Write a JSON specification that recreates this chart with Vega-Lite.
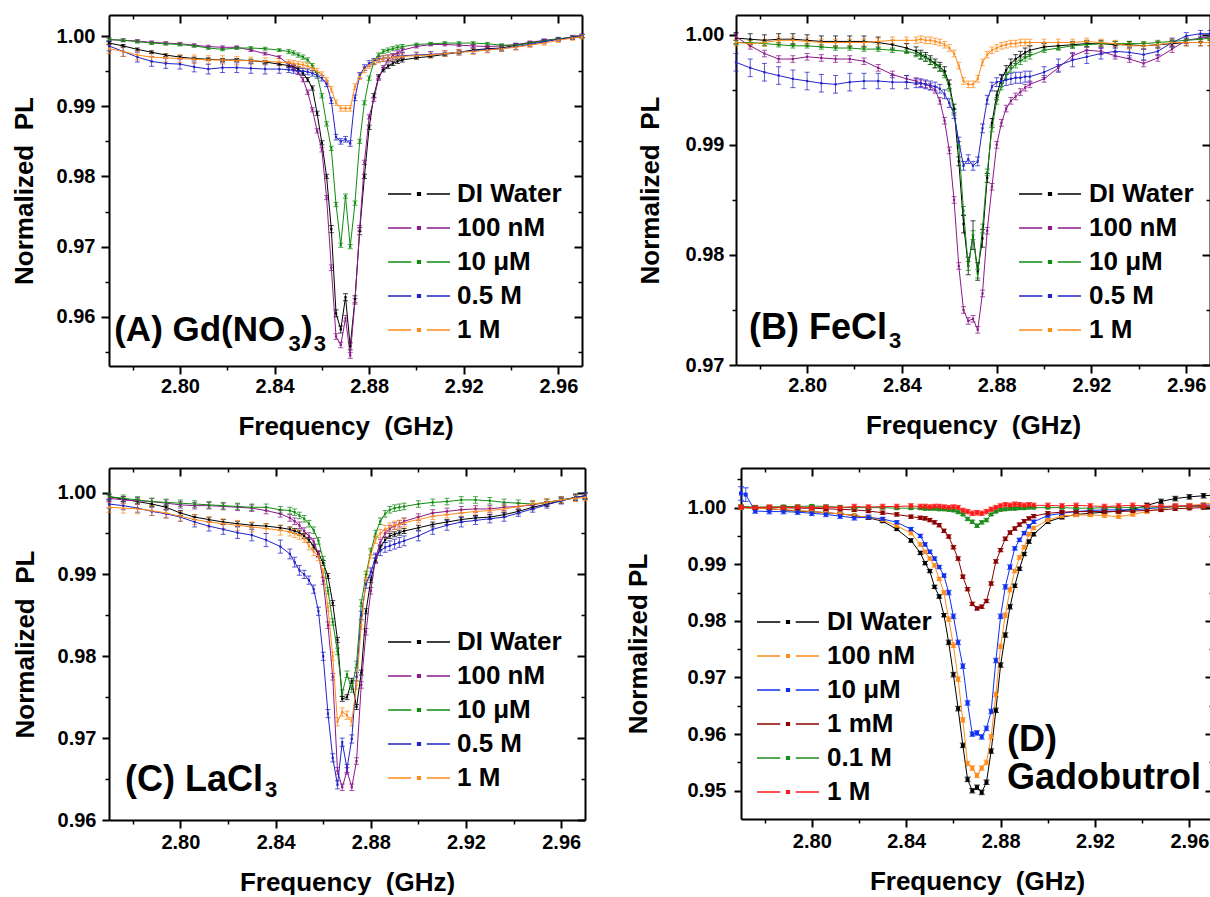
{
"$schema":"https://vega.github.io/schema/vega-lite/v6.json",
"padding":{"left":11,"top":14,"right":0,"bottom":0},
"config":{"font":"Liberation Sans","view":{"stroke":null},
 "axis":{"labelFont":"Liberation Sans","labelFontSize":20,"labelFontWeight":"bold","labelColor":"#000","titleFont":"Liberation Sans","titleFontSize":26,"titleFontWeight":"bold","titleColor":"#000","domainColor":"#000","tickColor":"#000","grid":false,"labelOverlap":false,"labelFlush":false},
 "legend":{"labelFont":"Liberation Sans","labelFontSize":26,"labelFontWeight":"bold","labelColor":"#000","symbolType":"M-1.6,0L-0.4,0M0.4,0L1.6,0M-0.07,-0.07L0.07,-0.07L0.07,0.07L-0.07,0.07Z","symbolSize":1501,"symbolStrokeWidth":1.5,"rowPadding":0,"padding":0,"labelLimit":0,"symbolOpacity":1}},
"resolve":{"scale":{"color":"independent"}},
"spacing":28,
"datasets":{
"A":[
{"s":"DI Water","f":2.77,"y":0.999,"e":0.0002},{"s":"DI Water","f":2.776,"y":0.9986,"e":0.0002},{"s":"DI Water","f":2.782,"y":0.9981,"e":0.0002},{"s":"DI Water","f":2.788,"y":0.9977,"e":0.0002},{"s":"DI Water","f":2.794,"y":0.9973,"e":0.0002},{"s":"DI Water","f":2.8,"y":0.997,"e":0.0002},{"s":"DI Water","f":2.806,"y":0.9968,"e":0.0002},{"s":"DI Water","f":2.812,"y":0.9967,"e":0.0002},{"s":"DI Water","f":2.818,"y":0.9966,"e":0.0002},{"s":"DI Water","f":2.824,"y":0.9966,"e":0.0002},{"s":"DI Water","f":2.83,"y":0.9965,"e":0.0002},{"s":"DI Water","f":2.836,"y":0.9963,"e":0.0002},{"s":"DI Water","f":2.842,"y":0.996,"e":0.0002},
{"s":"DI Water","f":2.846,"y":0.9958,"e":0.0003},{"s":"DI Water","f":2.848,"y":0.9956,"e":0.0003},{"s":"DI Water","f":2.85,"y":0.9953,"e":0.0003},{"s":"DI Water","f":2.852,"y":0.9947,"e":0.0003},{"s":"DI Water","f":2.854,"y":0.9938,"e":0.0003},{"s":"DI Water","f":2.856,"y":0.9926,"e":0.0003},{"s":"DI Water","f":2.858,"y":0.989,"e":0.0003},{"s":"DI Water","f":2.86,"y":0.9848,"e":0.0003},{"s":"DI Water","f":2.862,"y":0.98,"e":0.0003},{"s":"DI Water","f":2.864,"y":0.9725,"e":0.0005},{"s":"DI Water","f":2.866,"y":0.9605,"e":0.0005},{"s":"DI Water","f":2.868,"y":0.9582,"e":0.0005},{"s":"DI Water","f":2.87,"y":0.9628,"e":0.0005},{"s":"DI Water","f":2.872,"y":0.9558,"e":0.0005},{"s":"DI Water","f":2.874,"y":0.9625,"e":0.0005},{"s":"DI Water","f":2.876,"y":0.9722,"e":0.0005},{"s":"DI Water","f":2.878,"y":0.98,"e":0.0003},{"s":"DI Water","f":2.88,"y":0.987,"e":0.0003},{"s":"DI Water","f":2.882,"y":0.9915,"e":0.0003},{"s":"DI Water","f":2.884,"y":0.9942,"e":0.0003},{"s":"DI Water","f":2.886,"y":0.9952,"e":0.0003},{"s":"DI Water","f":2.888,"y":0.9957,"e":0.0003},{"s":"DI Water","f":2.89,"y":0.9961,"e":0.0003},{"s":"DI Water","f":2.892,"y":0.9964,"e":0.0003},{"s":"DI Water","f":2.894,"y":0.9966,"e":0.0003},
{"s":"DI Water","f":2.9,"y":0.9969,"e":0.0002},{"s":"DI Water","f":2.906,"y":0.9971,"e":0.0002},{"s":"DI Water","f":2.912,"y":0.9974,"e":0.0002},{"s":"DI Water","f":2.918,"y":0.9977,"e":0.0002},{"s":"DI Water","f":2.924,"y":0.998,"e":0.0002},{"s":"DI Water","f":2.93,"y":0.9982,"e":0.0002},{"s":"DI Water","f":2.936,"y":0.9983,"e":0.0003},{"s":"DI Water","f":2.942,"y":0.9987,"e":0.0002},{"s":"DI Water","f":2.948,"y":0.999,"e":0.0002},{"s":"DI Water","f":2.954,"y":0.9993,"e":0.0002},{"s":"DI Water","f":2.96,"y":0.9996,"e":0.0002},{"s":"DI Water","f":2.966,"y":0.9998,"e":0.0002},{"s":"DI Water","f":2.97,"y":1.0,"e":0.0002},
{"s":"100 nM","f":2.77,"y":0.9995,"e":0.0002},{"s":"100 nM","f":2.776,"y":0.9994,"e":0.0002},{"s":"100 nM","f":2.782,"y":0.9993,"e":0.0002},{"s":"100 nM","f":2.788,"y":0.9991,"e":0.0002},{"s":"100 nM","f":2.794,"y":0.999,"e":0.0002},{"s":"100 nM","f":2.8,"y":0.9989,"e":0.0002},{"s":"100 nM","f":2.806,"y":0.9987,"e":0.0002},{"s":"100 nM","f":2.812,"y":0.9985,"e":0.0002},{"s":"100 nM","f":2.818,"y":0.9984,"e":0.0002},{"s":"100 nM","f":2.824,"y":0.9984,"e":0.0002},{"s":"100 nM","f":2.83,"y":0.998,"e":0.0002},{"s":"100 nM","f":2.836,"y":0.9975,"e":0.0002},{"s":"100 nM","f":2.842,"y":0.997,"e":0.0002},
{"s":"100 nM","f":2.846,"y":0.996,"e":0.0003},{"s":"100 nM","f":2.848,"y":0.9955,"e":0.0003},{"s":"100 nM","f":2.85,"y":0.9948,"e":0.0003},{"s":"100 nM","f":2.852,"y":0.9938,"e":0.0003},{"s":"100 nM","f":2.854,"y":0.992,"e":0.0003},{"s":"100 nM","f":2.856,"y":0.9895,"e":0.0003},{"s":"100 nM","f":2.858,"y":0.9865,"e":0.0003},{"s":"100 nM","f":2.86,"y":0.9838,"e":0.0003},{"s":"100 nM","f":2.862,"y":0.977,"e":0.0003},{"s":"100 nM","f":2.864,"y":0.967,"e":0.0004},{"s":"100 nM","f":2.866,"y":0.9572,"e":0.0004},{"s":"100 nM","f":2.868,"y":0.956,"e":0.0004},{"s":"100 nM","f":2.87,"y":0.9598,"e":0.0004},{"s":"100 nM","f":2.872,"y":0.9545,"e":0.0004},{"s":"100 nM","f":2.874,"y":0.9622,"e":0.0004},{"s":"100 nM","f":2.876,"y":0.9726,"e":0.0004},{"s":"100 nM","f":2.878,"y":0.982,"e":0.0003},{"s":"100 nM","f":2.88,"y":0.9885,"e":0.0003},{"s":"100 nM","f":2.882,"y":0.991,"e":0.0003},{"s":"100 nM","f":2.884,"y":0.994,"e":0.0003},{"s":"100 nM","f":2.886,"y":0.9955,"e":0.0003},{"s":"100 nM","f":2.888,"y":0.9966,"e":0.0003},{"s":"100 nM","f":2.89,"y":0.9972,"e":0.0003},{"s":"100 nM","f":2.892,"y":0.9976,"e":0.0003},{"s":"100 nM","f":2.894,"y":0.998,"e":0.0003},
{"s":"100 nM","f":2.9,"y":0.9985,"e":0.0002},{"s":"100 nM","f":2.906,"y":0.9988,"e":0.0002},{"s":"100 nM","f":2.912,"y":0.9988,"e":0.0002},{"s":"100 nM","f":2.918,"y":0.9987,"e":0.0002},{"s":"100 nM","f":2.924,"y":0.9986,"e":0.0002},{"s":"100 nM","f":2.93,"y":0.9985,"e":0.0002},{"s":"100 nM","f":2.936,"y":0.9986,"e":0.0002},{"s":"100 nM","f":2.942,"y":0.9988,"e":0.0002},{"s":"100 nM","f":2.948,"y":0.9991,"e":0.0002},{"s":"100 nM","f":2.954,"y":0.9994,"e":0.0002},{"s":"100 nM","f":2.96,"y":0.9996,"e":0.0002},{"s":"100 nM","f":2.966,"y":0.9998,"e":0.0002},{"s":"100 nM","f":2.97,"y":1.0,"e":0.0002},
{"s":"10 μM","f":2.77,"y":0.9995,"e":0.0002},{"s":"10 μM","f":2.776,"y":0.9994,"e":0.0002},{"s":"10 μM","f":2.782,"y":0.9992,"e":0.0002},{"s":"10 μM","f":2.788,"y":0.999,"e":0.0002},{"s":"10 μM","f":2.794,"y":0.9989,"e":0.0002},{"s":"10 μM","f":2.8,"y":0.9988,"e":0.0002},{"s":"10 μM","f":2.806,"y":0.9986,"e":0.0002},{"s":"10 μM","f":2.812,"y":0.9983,"e":0.0002},{"s":"10 μM","f":2.818,"y":0.9981,"e":0.0002},{"s":"10 μM","f":2.824,"y":0.9983,"e":0.0002},{"s":"10 μM","f":2.83,"y":0.9983,"e":0.0002},{"s":"10 μM","f":2.836,"y":0.9982,"e":0.0002},{"s":"10 μM","f":2.842,"y":0.998,"e":0.0002},
{"s":"10 μM","f":2.846,"y":0.9978,"e":0.0003},{"s":"10 μM","f":2.848,"y":0.9976,"e":0.0003},{"s":"10 μM","f":2.85,"y":0.9973,"e":0.0003},{"s":"10 μM","f":2.852,"y":0.997,"e":0.0003},{"s":"10 μM","f":2.854,"y":0.9966,"e":0.0003},{"s":"10 μM","f":2.856,"y":0.9958,"e":0.0003},{"s":"10 μM","f":2.858,"y":0.9945,"e":0.0003},{"s":"10 μM","f":2.86,"y":0.9915,"e":0.0003},{"s":"10 μM","f":2.862,"y":0.9875,"e":0.0003},{"s":"10 μM","f":2.864,"y":0.984,"e":0.0003},{"s":"10 μM","f":2.866,"y":0.976,"e":0.0003},{"s":"10 μM","f":2.868,"y":0.9702,"e":0.0003},{"s":"10 μM","f":2.87,"y":0.9772,"e":0.0003},{"s":"10 μM","f":2.872,"y":0.97,"e":0.0003},{"s":"10 μM","f":2.874,"y":0.9762,"e":0.0003},{"s":"10 μM","f":2.876,"y":0.985,"e":0.0003},{"s":"10 μM","f":2.878,"y":0.9905,"e":0.0003},{"s":"10 μM","f":2.88,"y":0.994,"e":0.0003},{"s":"10 μM","f":2.882,"y":0.9963,"e":0.0003},{"s":"10 μM","f":2.884,"y":0.9973,"e":0.0003},{"s":"10 μM","f":2.886,"y":0.9978,"e":0.0003},{"s":"10 μM","f":2.888,"y":0.998,"e":0.0003},{"s":"10 μM","f":2.89,"y":0.9982,"e":0.0003},{"s":"10 μM","f":2.892,"y":0.9984,"e":0.0003},{"s":"10 μM","f":2.894,"y":0.9985,"e":0.0003},
{"s":"10 μM","f":2.9,"y":0.9988,"e":0.0002},{"s":"10 μM","f":2.906,"y":0.9989,"e":0.0002},{"s":"10 μM","f":2.912,"y":0.999,"e":0.0002},{"s":"10 μM","f":2.918,"y":0.999,"e":0.0002},{"s":"10 μM","f":2.924,"y":0.999,"e":0.0002},{"s":"10 μM","f":2.93,"y":0.9989,"e":0.0002},{"s":"10 μM","f":2.936,"y":0.9987,"e":0.0002},{"s":"10 μM","f":2.942,"y":0.9987,"e":0.0002},{"s":"10 μM","f":2.948,"y":0.999,"e":0.0002},{"s":"10 μM","f":2.954,"y":0.9993,"e":0.0002},{"s":"10 μM","f":2.96,"y":0.9996,"e":0.0002},{"s":"10 μM","f":2.966,"y":0.9998,"e":0.0002},{"s":"10 μM","f":2.97,"y":1.0,"e":0.0002},
{"s":"0.5 M","f":2.77,"y":0.9986,"e":0.0007},{"s":"0.5 M","f":2.776,"y":0.9978,"e":0.0007},{"s":"0.5 M","f":2.782,"y":0.997,"e":0.0007},{"s":"0.5 M","f":2.788,"y":0.9964,"e":0.0007},{"s":"0.5 M","f":2.794,"y":0.9961,"e":0.0007},{"s":"0.5 M","f":2.8,"y":0.996,"e":0.0007},{"s":"0.5 M","f":2.806,"y":0.9956,"e":0.0007},{"s":"0.5 M","f":2.812,"y":0.9953,"e":0.0007},{"s":"0.5 M","f":2.818,"y":0.9955,"e":0.0007},{"s":"0.5 M","f":2.824,"y":0.9955,"e":0.0007},{"s":"0.5 M","f":2.83,"y":0.9954,"e":0.0007},{"s":"0.5 M","f":2.836,"y":0.9953,"e":0.0007},{"s":"0.5 M","f":2.842,"y":0.9953,"e":0.0006},
{"s":"0.5 M","f":2.846,"y":0.9952,"e":0.0004},{"s":"0.5 M","f":2.848,"y":0.9951,"e":0.0004},{"s":"0.5 M","f":2.85,"y":0.995,"e":0.0004},{"s":"0.5 M","f":2.852,"y":0.995,"e":0.0004},{"s":"0.5 M","f":2.854,"y":0.9949,"e":0.0004},{"s":"0.5 M","f":2.856,"y":0.9947,"e":0.0004},{"s":"0.5 M","f":2.858,"y":0.9944,"e":0.0004},{"s":"0.5 M","f":2.86,"y":0.994,"e":0.0004},{"s":"0.5 M","f":2.862,"y":0.9932,"e":0.0004},{"s":"0.5 M","f":2.864,"y":0.9908,"e":0.0004},{"s":"0.5 M","f":2.866,"y":0.9856,"e":0.0004},{"s":"0.5 M","f":2.868,"y":0.985,"e":0.0004},{"s":"0.5 M","f":2.87,"y":0.9853,"e":0.0004},{"s":"0.5 M","f":2.872,"y":0.9847,"e":0.0004},{"s":"0.5 M","f":2.874,"y":0.9912,"e":0.0004},{"s":"0.5 M","f":2.876,"y":0.9944,"e":0.0004},{"s":"0.5 M","f":2.878,"y":0.9955,"e":0.0004},{"s":"0.5 M","f":2.88,"y":0.9961,"e":0.0004},{"s":"0.5 M","f":2.882,"y":0.9964,"e":0.0004},{"s":"0.5 M","f":2.884,"y":0.9967,"e":0.0004},{"s":"0.5 M","f":2.886,"y":0.9968,"e":0.0004},{"s":"0.5 M","f":2.888,"y":0.9969,"e":0.0004},{"s":"0.5 M","f":2.89,"y":0.997,"e":0.0004},{"s":"0.5 M","f":2.892,"y":0.9971,"e":0.0004},{"s":"0.5 M","f":2.894,"y":0.9972,"e":0.0004},
{"s":"0.5 M","f":2.9,"y":0.9973,"e":0.0004},{"s":"0.5 M","f":2.906,"y":0.9974,"e":0.0004},{"s":"0.5 M","f":2.912,"y":0.9975,"e":0.0004},{"s":"0.5 M","f":2.918,"y":0.9977,"e":0.0004},{"s":"0.5 M","f":2.924,"y":0.9979,"e":0.0004},{"s":"0.5 M","f":2.93,"y":0.9981,"e":0.0004},{"s":"0.5 M","f":2.936,"y":0.9982,"e":0.0004},{"s":"0.5 M","f":2.942,"y":0.9985,"e":0.0004},{"s":"0.5 M","f":2.948,"y":0.9988,"e":0.0003},{"s":"0.5 M","f":2.954,"y":0.9992,"e":0.0003},{"s":"0.5 M","f":2.96,"y":0.9995,"e":0.0003},{"s":"0.5 M","f":2.966,"y":0.9998,"e":0.0003},{"s":"0.5 M","f":2.97,"y":1.0,"e":0.0003},
{"s":"1 M","f":2.77,"y":0.9982,"e":0.0007},{"s":"1 M","f":2.776,"y":0.9978,"e":0.0007},{"s":"1 M","f":2.782,"y":0.9973,"e":0.0007},{"s":"1 M","f":2.788,"y":0.997,"e":0.0007},{"s":"1 M","f":2.794,"y":0.9969,"e":0.0006},{"s":"1 M","f":2.8,"y":0.9968,"e":0.0006},{"s":"1 M","f":2.806,"y":0.9967,"e":0.0006},{"s":"1 M","f":2.812,"y":0.9966,"e":0.0006},{"s":"1 M","f":2.818,"y":0.9966,"e":0.0006},{"s":"1 M","f":2.824,"y":0.9965,"e":0.0006},{"s":"1 M","f":2.83,"y":0.9965,"e":0.0005},{"s":"1 M","f":2.836,"y":0.9964,"e":0.0005},{"s":"1 M","f":2.842,"y":0.9963,"e":0.0005},
{"s":"1 M","f":2.846,"y":0.9962,"e":0.0004},{"s":"1 M","f":2.848,"y":0.9961,"e":0.0004},{"s":"1 M","f":2.85,"y":0.996,"e":0.0004},{"s":"1 M","f":2.852,"y":0.9959,"e":0.0004},{"s":"1 M","f":2.854,"y":0.9957,"e":0.0004},{"s":"1 M","f":2.856,"y":0.9954,"e":0.0004},{"s":"1 M","f":2.858,"y":0.995,"e":0.0004},{"s":"1 M","f":2.86,"y":0.9945,"e":0.0004},{"s":"1 M","f":2.862,"y":0.9937,"e":0.0004},{"s":"1 M","f":2.864,"y":0.9924,"e":0.0004},{"s":"1 M","f":2.866,"y":0.9905,"e":0.0004},{"s":"1 M","f":2.868,"y":0.9897,"e":0.0004},{"s":"1 M","f":2.87,"y":0.9897,"e":0.0004},{"s":"1 M","f":2.872,"y":0.9897,"e":0.0004},{"s":"1 M","f":2.874,"y":0.9928,"e":0.0004},{"s":"1 M","f":2.876,"y":0.9942,"e":0.0004},{"s":"1 M","f":2.878,"y":0.9952,"e":0.0004},{"s":"1 M","f":2.88,"y":0.9958,"e":0.0004},{"s":"1 M","f":2.882,"y":0.9963,"e":0.0004},{"s":"1 M","f":2.884,"y":0.9966,"e":0.0004},{"s":"1 M","f":2.886,"y":0.9968,"e":0.0004},{"s":"1 M","f":2.888,"y":0.9969,"e":0.0004},{"s":"1 M","f":2.89,"y":0.997,"e":0.0004},{"s":"1 M","f":2.892,"y":0.997,"e":0.0004},{"s":"1 M","f":2.894,"y":0.9971,"e":0.0004},
{"s":"1 M","f":2.9,"y":0.9972,"e":0.0004},{"s":"1 M","f":2.906,"y":0.9973,"e":0.0004},{"s":"1 M","f":2.912,"y":0.9975,"e":0.0004},{"s":"1 M","f":2.918,"y":0.9977,"e":0.0004},{"s":"1 M","f":2.924,"y":0.9978,"e":0.0004},{"s":"1 M","f":2.93,"y":0.998,"e":0.0004},{"s":"1 M","f":2.936,"y":0.9982,"e":0.0004},{"s":"1 M","f":2.942,"y":0.9984,"e":0.0004},{"s":"1 M","f":2.948,"y":0.9987,"e":0.0003},{"s":"1 M","f":2.954,"y":0.999,"e":0.0003},{"s":"1 M","f":2.96,"y":0.9994,"e":0.0003},{"s":"1 M","f":2.966,"y":0.9997,"e":0.0003},{"s":"1 M","f":2.97,"y":0.9999,"e":0.0003}
],
"B":[
{"s":"DI Water","f":2.77,"y":0.9997,"e":0.0005},{"s":"DI Water","f":2.776,"y":0.9996,"e":0.0005},{"s":"DI Water","f":2.782,"y":0.9995,"e":0.0005},{"s":"DI Water","f":2.788,"y":0.9996,"e":0.0005},{"s":"DI Water","f":2.794,"y":0.9996,"e":0.0005},{"s":"DI Water","f":2.8,"y":0.9995,"e":0.0005},{"s":"DI Water","f":2.806,"y":0.9994,"e":0.0005},{"s":"DI Water","f":2.812,"y":0.9994,"e":0.0005},{"s":"DI Water","f":2.818,"y":0.9994,"e":0.0005},{"s":"DI Water","f":2.824,"y":0.9994,"e":0.0005},{"s":"DI Water","f":2.83,"y":0.9993,"e":0.0005},{"s":"DI Water","f":2.836,"y":0.9991,"e":0.0004},{"s":"DI Water","f":2.842,"y":0.9988,"e":0.0004},
{"s":"DI Water","f":2.846,"y":0.9985,"e":0.0004},{"s":"DI Water","f":2.848,"y":0.9982,"e":0.0004},{"s":"DI Water","f":2.85,"y":0.998,"e":0.0004},{"s":"DI Water","f":2.852,"y":0.9977,"e":0.0004},{"s":"DI Water","f":2.854,"y":0.9974,"e":0.0004},{"s":"DI Water","f":2.856,"y":0.9971,"e":0.0004},{"s":"DI Water","f":2.858,"y":0.9967,"e":0.0004},{"s":"DI Water","f":2.86,"y":0.9955,"e":0.0004},{"s":"DI Water","f":2.862,"y":0.9933,"e":0.0004},{"s":"DI Water","f":2.864,"y":0.9885,"e":0.0004},{"s":"DI Water","f":2.866,"y":0.9828,"e":0.0008},{"s":"DI Water","f":2.868,"y":0.979,"e":0.0008},{"s":"DI Water","f":2.87,"y":0.9818,"e":0.0013},{"s":"DI Water","f":2.872,"y":0.9785,"e":0.0008},{"s":"DI Water","f":2.874,"y":0.9815,"e":0.0008},{"s":"DI Water","f":2.876,"y":0.987,"e":0.0004},{"s":"DI Water","f":2.878,"y":0.992,"e":0.0004},{"s":"DI Water","f":2.88,"y":0.9945,"e":0.0004},{"s":"DI Water","f":2.882,"y":0.996,"e":0.0004},{"s":"DI Water","f":2.884,"y":0.9968,"e":0.0004},{"s":"DI Water","f":2.886,"y":0.9974,"e":0.0004},{"s":"DI Water","f":2.888,"y":0.9978,"e":0.0004},{"s":"DI Water","f":2.89,"y":0.9981,"e":0.0004},{"s":"DI Water","f":2.892,"y":0.9984,"e":0.0004},{"s":"DI Water","f":2.894,"y":0.9986,"e":0.0004},
{"s":"DI Water","f":2.9,"y":0.9989,"e":0.0003},{"s":"DI Water","f":2.906,"y":0.999,"e":0.0003},{"s":"DI Water","f":2.912,"y":0.9991,"e":0.0003},{"s":"DI Water","f":2.918,"y":0.9992,"e":0.0003},{"s":"DI Water","f":2.924,"y":0.9992,"e":0.0003},{"s":"DI Water","f":2.93,"y":0.9991,"e":0.0003},{"s":"DI Water","f":2.936,"y":0.9991,"e":0.0003},{"s":"DI Water","f":2.942,"y":0.999,"e":0.0003},{"s":"DI Water","f":2.948,"y":0.9991,"e":0.0003},{"s":"DI Water","f":2.954,"y":0.9992,"e":0.0003},{"s":"DI Water","f":2.96,"y":0.9993,"e":0.0003},{"s":"DI Water","f":2.966,"y":0.9993,"e":0.0003},{"s":"DI Water","f":2.97,"y":0.9993,"e":0.0003},
{"s":"100 nM","f":2.77,"y":0.9998,"e":0.0003},{"s":"100 nM","f":2.776,"y":0.999,"e":0.0003},{"s":"100 nM","f":2.782,"y":0.9983,"e":0.0003},{"s":"100 nM","f":2.788,"y":0.9978,"e":0.0003},{"s":"100 nM","f":2.794,"y":0.9978,"e":0.0003},{"s":"100 nM","f":2.8,"y":0.998,"e":0.0003},{"s":"100 nM","f":2.806,"y":0.9979,"e":0.0003},{"s":"100 nM","f":2.812,"y":0.9978,"e":0.0003},{"s":"100 nM","f":2.818,"y":0.9978,"e":0.0003},{"s":"100 nM","f":2.824,"y":0.9976,"e":0.0003},{"s":"100 nM","f":2.83,"y":0.997,"e":0.0003},{"s":"100 nM","f":2.836,"y":0.9964,"e":0.0003},{"s":"100 nM","f":2.842,"y":0.996,"e":0.0003},
{"s":"100 nM","f":2.846,"y":0.9958,"e":0.0003},{"s":"100 nM","f":2.848,"y":0.9956,"e":0.0003},{"s":"100 nM","f":2.85,"y":0.9955,"e":0.0003},{"s":"100 nM","f":2.852,"y":0.9953,"e":0.0003},{"s":"100 nM","f":2.854,"y":0.995,"e":0.0003},{"s":"100 nM","f":2.856,"y":0.994,"e":0.0003},{"s":"100 nM","f":2.858,"y":0.9922,"e":0.0003},{"s":"100 nM","f":2.86,"y":0.9895,"e":0.0003},{"s":"100 nM","f":2.862,"y":0.985,"e":0.0003},{"s":"100 nM","f":2.864,"y":0.979,"e":0.0003},{"s":"100 nM","f":2.866,"y":0.975,"e":0.0003},{"s":"100 nM","f":2.868,"y":0.974,"e":0.0003},{"s":"100 nM","f":2.87,"y":0.9742,"e":0.0003},{"s":"100 nM","f":2.872,"y":0.9732,"e":0.0003},{"s":"100 nM","f":2.874,"y":0.9765,"e":0.0003},{"s":"100 nM","f":2.876,"y":0.9822,"e":0.0003},{"s":"100 nM","f":2.878,"y":0.9862,"e":0.0003},{"s":"100 nM","f":2.88,"y":0.99,"e":0.0003},{"s":"100 nM","f":2.882,"y":0.992,"e":0.0003},{"s":"100 nM","f":2.884,"y":0.9933,"e":0.0003},{"s":"100 nM","f":2.886,"y":0.994,"e":0.0003},{"s":"100 nM","f":2.888,"y":0.9944,"e":0.0003},{"s":"100 nM","f":2.89,"y":0.9948,"e":0.0003},{"s":"100 nM","f":2.892,"y":0.9952,"e":0.0003},{"s":"100 nM","f":2.894,"y":0.9955,"e":0.0003},
{"s":"100 nM","f":2.9,"y":0.996,"e":0.0003},{"s":"100 nM","f":2.906,"y":0.997,"e":0.0003},{"s":"100 nM","f":2.912,"y":0.9981,"e":0.0003},{"s":"100 nM","f":2.918,"y":0.9986,"e":0.0003},{"s":"100 nM","f":2.924,"y":0.9985,"e":0.0003},{"s":"100 nM","f":2.93,"y":0.9981,"e":0.0003},{"s":"100 nM","f":2.936,"y":0.9978,"e":0.0003},{"s":"100 nM","f":2.942,"y":0.9974,"e":0.0003},{"s":"100 nM","f":2.948,"y":0.9979,"e":0.0003},{"s":"100 nM","f":2.954,"y":0.9987,"e":0.0003},{"s":"100 nM","f":2.96,"y":0.9995,"e":0.0003},{"s":"100 nM","f":2.966,"y":0.9997,"e":0.0003},{"s":"100 nM","f":2.97,"y":0.9998,"e":0.0003},
{"s":"10 μM","f":2.77,"y":0.9993,"e":0.0002},{"s":"10 μM","f":2.776,"y":0.9993,"e":0.0002},{"s":"10 μM","f":2.782,"y":0.9992,"e":0.0002},{"s":"10 μM","f":2.788,"y":0.9991,"e":0.0002},{"s":"10 μM","f":2.794,"y":0.999,"e":0.0002},{"s":"10 μM","f":2.8,"y":0.999,"e":0.0002},{"s":"10 μM","f":2.806,"y":0.9989,"e":0.0002},{"s":"10 μM","f":2.812,"y":0.9988,"e":0.0002},{"s":"10 μM","f":2.818,"y":0.9988,"e":0.0002},{"s":"10 μM","f":2.824,"y":0.9987,"e":0.0002},{"s":"10 μM","f":2.83,"y":0.9987,"e":0.0002},{"s":"10 μM","f":2.836,"y":0.9986,"e":0.0002},{"s":"10 μM","f":2.842,"y":0.9985,"e":0.0002},
{"s":"10 μM","f":2.846,"y":0.9983,"e":0.0003},{"s":"10 μM","f":2.848,"y":0.9981,"e":0.0003},{"s":"10 μM","f":2.85,"y":0.9979,"e":0.0003},{"s":"10 μM","f":2.852,"y":0.9976,"e":0.0003},{"s":"10 μM","f":2.854,"y":0.9973,"e":0.0003},{"s":"10 μM","f":2.856,"y":0.997,"e":0.0003},{"s":"10 μM","f":2.858,"y":0.9964,"e":0.0003},{"s":"10 μM","f":2.86,"y":0.9952,"e":0.0003},{"s":"10 μM","f":2.862,"y":0.993,"e":0.0003},{"s":"10 μM","f":2.864,"y":0.99,"e":0.0003},{"s":"10 μM","f":2.866,"y":0.984,"e":0.0004},{"s":"10 μM","f":2.868,"y":0.979,"e":0.0004},{"s":"10 μM","f":2.87,"y":0.9818,"e":0.0004},{"s":"10 μM","f":2.872,"y":0.9783,"e":0.0004},{"s":"10 μM","f":2.874,"y":0.9824,"e":0.0004},{"s":"10 μM","f":2.876,"y":0.9875,"e":0.0003},{"s":"10 μM","f":2.878,"y":0.9915,"e":0.0003},{"s":"10 μM","f":2.88,"y":0.994,"e":0.0003},{"s":"10 μM","f":2.882,"y":0.9953,"e":0.0003},{"s":"10 μM","f":2.884,"y":0.9963,"e":0.0003},{"s":"10 μM","f":2.886,"y":0.9969,"e":0.0003},{"s":"10 μM","f":2.888,"y":0.9973,"e":0.0003},{"s":"10 μM","f":2.89,"y":0.9976,"e":0.0003},{"s":"10 μM","f":2.892,"y":0.9979,"e":0.0003},{"s":"10 μM","f":2.894,"y":0.9981,"e":0.0003},
{"s":"10 μM","f":2.9,"y":0.9986,"e":0.0002},{"s":"10 μM","f":2.906,"y":0.9988,"e":0.0002},{"s":"10 μM","f":2.912,"y":0.999,"e":0.0002},{"s":"10 μM","f":2.918,"y":0.9991,"e":0.0002},{"s":"10 μM","f":2.924,"y":0.9992,"e":0.0002},{"s":"10 μM","f":2.93,"y":0.9992,"e":0.0002},{"s":"10 μM","f":2.936,"y":0.9992,"e":0.0002},{"s":"10 μM","f":2.942,"y":0.9992,"e":0.0002},{"s":"10 μM","f":2.948,"y":0.9993,"e":0.0002},{"s":"10 μM","f":2.954,"y":0.9994,"e":0.0002},{"s":"10 μM","f":2.96,"y":0.9995,"e":0.0002},{"s":"10 μM","f":2.966,"y":0.9996,"e":0.0002},{"s":"10 μM","f":2.97,"y":0.9997,"e":0.0002},
{"s":"0.5 M","f":2.77,"y":0.9975,"e":0.0008},{"s":"0.5 M","f":2.776,"y":0.997,"e":0.0008},{"s":"0.5 M","f":2.782,"y":0.9966,"e":0.0008},{"s":"0.5 M","f":2.788,"y":0.9963,"e":0.0008},{"s":"0.5 M","f":2.794,"y":0.996,"e":0.0008},{"s":"0.5 M","f":2.8,"y":0.9958,"e":0.0008},{"s":"0.5 M","f":2.806,"y":0.9956,"e":0.0008},{"s":"0.5 M","f":2.812,"y":0.9955,"e":0.0008},{"s":"0.5 M","f":2.818,"y":0.9957,"e":0.0008},{"s":"0.5 M","f":2.824,"y":0.9958,"e":0.0007},{"s":"0.5 M","f":2.83,"y":0.9958,"e":0.0007},{"s":"0.5 M","f":2.836,"y":0.9957,"e":0.0006},{"s":"0.5 M","f":2.842,"y":0.9957,"e":0.0006},
{"s":"0.5 M","f":2.846,"y":0.9956,"e":0.0004},{"s":"0.5 M","f":2.848,"y":0.9956,"e":0.0004},{"s":"0.5 M","f":2.85,"y":0.9955,"e":0.0004},{"s":"0.5 M","f":2.852,"y":0.9954,"e":0.0004},{"s":"0.5 M","f":2.854,"y":0.9953,"e":0.0004},{"s":"0.5 M","f":2.856,"y":0.9951,"e":0.0004},{"s":"0.5 M","f":2.858,"y":0.9946,"e":0.0004},{"s":"0.5 M","f":2.86,"y":0.9938,"e":0.0004},{"s":"0.5 M","f":2.862,"y":0.9928,"e":0.0004},{"s":"0.5 M","f":2.864,"y":0.9903,"e":0.0004},{"s":"0.5 M","f":2.866,"y":0.9881,"e":0.0004},{"s":"0.5 M","f":2.868,"y":0.9887,"e":0.0004},{"s":"0.5 M","f":2.87,"y":0.9881,"e":0.0004},{"s":"0.5 M","f":2.872,"y":0.9885,"e":0.0004},{"s":"0.5 M","f":2.874,"y":0.9915,"e":0.0004},{"s":"0.5 M","f":2.876,"y":0.9941,"e":0.0004},{"s":"0.5 M","f":2.878,"y":0.9953,"e":0.0004},{"s":"0.5 M","f":2.88,"y":0.9957,"e":0.0004},{"s":"0.5 M","f":2.882,"y":0.9958,"e":0.0005},{"s":"0.5 M","f":2.884,"y":0.9959,"e":0.0005},{"s":"0.5 M","f":2.886,"y":0.996,"e":0.0005},{"s":"0.5 M","f":2.888,"y":0.9961,"e":0.0005},{"s":"0.5 M","f":2.89,"y":0.9961,"e":0.0005},{"s":"0.5 M","f":2.892,"y":0.9962,"e":0.0005},{"s":"0.5 M","f":2.894,"y":0.9962,"e":0.0005},
{"s":"0.5 M","f":2.9,"y":0.9966,"e":0.0005},{"s":"0.5 M","f":2.906,"y":0.9972,"e":0.0006},{"s":"0.5 M","f":2.912,"y":0.9977,"e":0.0006},{"s":"0.5 M","f":2.918,"y":0.998,"e":0.0006},{"s":"0.5 M","f":2.924,"y":0.9983,"e":0.0005},{"s":"0.5 M","f":2.93,"y":0.9985,"e":0.0005},{"s":"0.5 M","f":2.936,"y":0.9984,"e":0.0005},{"s":"0.5 M","f":2.942,"y":0.9982,"e":0.0005},{"s":"0.5 M","f":2.948,"y":0.9985,"e":0.0004},{"s":"0.5 M","f":2.954,"y":0.9993,"e":0.0004},{"s":"0.5 M","f":2.96,"y":0.9999,"e":0.0003},{"s":"0.5 M","f":2.966,"y":1.0001,"e":0.0003},{"s":"0.5 M","f":2.97,"y":1.0001,"e":0.0003},
{"s":"1 M","f":2.77,"y":0.9993,"e":0.0003},{"s":"1 M","f":2.776,"y":0.9992,"e":0.0003},{"s":"1 M","f":2.782,"y":0.9993,"e":0.0003},{"s":"1 M","f":2.788,"y":0.9995,"e":0.0003},{"s":"1 M","f":2.794,"y":0.9995,"e":0.0003},{"s":"1 M","f":2.8,"y":0.9994,"e":0.0003},{"s":"1 M","f":2.806,"y":0.9993,"e":0.0003},{"s":"1 M","f":2.812,"y":0.9993,"e":0.0003},{"s":"1 M","f":2.818,"y":0.9993,"e":0.0003},{"s":"1 M","f":2.824,"y":0.9993,"e":0.0003},{"s":"1 M","f":2.83,"y":0.9994,"e":0.0003},{"s":"1 M","f":2.836,"y":0.9995,"e":0.0003},{"s":"1 M","f":2.842,"y":0.9995,"e":0.0003},
{"s":"1 M","f":2.846,"y":0.9995,"e":0.0003},{"s":"1 M","f":2.848,"y":0.9996,"e":0.0003},{"s":"1 M","f":2.85,"y":0.9995,"e":0.0003},{"s":"1 M","f":2.852,"y":0.9995,"e":0.0003},{"s":"1 M","f":2.854,"y":0.9994,"e":0.0003},{"s":"1 M","f":2.856,"y":0.9993,"e":0.0003},{"s":"1 M","f":2.858,"y":0.9991,"e":0.0003},{"s":"1 M","f":2.86,"y":0.9988,"e":0.0003},{"s":"1 M","f":2.862,"y":0.9983,"e":0.0003},{"s":"1 M","f":2.864,"y":0.9972,"e":0.0003},{"s":"1 M","f":2.866,"y":0.9958,"e":0.0003},{"s":"1 M","f":2.868,"y":0.9955,"e":0.0003},{"s":"1 M","f":2.87,"y":0.9955,"e":0.0003},{"s":"1 M","f":2.872,"y":0.996,"e":0.0003},{"s":"1 M","f":2.874,"y":0.9975,"e":0.0003},{"s":"1 M","f":2.876,"y":0.9982,"e":0.0003},{"s":"1 M","f":2.878,"y":0.9986,"e":0.0003},{"s":"1 M","f":2.88,"y":0.9988,"e":0.0003},{"s":"1 M","f":2.882,"y":0.999,"e":0.0003},{"s":"1 M","f":2.884,"y":0.9991,"e":0.0003},{"s":"1 M","f":2.886,"y":0.9992,"e":0.0003},{"s":"1 M","f":2.888,"y":0.9992,"e":0.0003},{"s":"1 M","f":2.89,"y":0.9993,"e":0.0003},{"s":"1 M","f":2.892,"y":0.9993,"e":0.0003},{"s":"1 M","f":2.894,"y":0.9993,"e":0.0003},
{"s":"1 M","f":2.9,"y":0.9993,"e":0.0003},{"s":"1 M","f":2.906,"y":0.9993,"e":0.0003},{"s":"1 M","f":2.912,"y":0.9993,"e":0.0003},{"s":"1 M","f":2.918,"y":0.9994,"e":0.0003},{"s":"1 M","f":2.924,"y":0.9993,"e":0.0003},{"s":"1 M","f":2.93,"y":0.9992,"e":0.0003},{"s":"1 M","f":2.936,"y":0.999,"e":0.0003},{"s":"1 M","f":2.942,"y":0.999,"e":0.0003},{"s":"1 M","f":2.948,"y":0.9991,"e":0.0003},{"s":"1 M","f":2.954,"y":0.9993,"e":0.0003},{"s":"1 M","f":2.96,"y":0.9993,"e":0.0003},{"s":"1 M","f":2.966,"y":0.9993,"e":0.0003},{"s":"1 M","f":2.97,"y":0.9993,"e":0.0003}
],
"C":[
{"s":"DI Water","f":2.77,"y":0.9995,"e":0.0003},{"s":"DI Water","f":2.776,"y":0.9992,"e":0.0003},{"s":"DI Water","f":2.782,"y":0.9989,"e":0.0003},{"s":"DI Water","f":2.788,"y":0.9986,"e":0.0003},{"s":"DI Water","f":2.794,"y":0.9982,"e":0.0003},{"s":"DI Water","f":2.8,"y":0.9975,"e":0.0003},{"s":"DI Water","f":2.806,"y":0.997,"e":0.0003},{"s":"DI Water","f":2.812,"y":0.9967,"e":0.0003},{"s":"DI Water","f":2.818,"y":0.9964,"e":0.0003},{"s":"DI Water","f":2.824,"y":0.9962,"e":0.0003},{"s":"DI Water","f":2.83,"y":0.996,"e":0.0003},{"s":"DI Water","f":2.836,"y":0.9959,"e":0.0003},{"s":"DI Water","f":2.842,"y":0.9957,"e":0.0003},
{"s":"DI Water","f":2.846,"y":0.9955,"e":0.0003},{"s":"DI Water","f":2.848,"y":0.9953,"e":0.0003},{"s":"DI Water","f":2.85,"y":0.9951,"e":0.0003},{"s":"DI Water","f":2.852,"y":0.9947,"e":0.0003},{"s":"DI Water","f":2.854,"y":0.9942,"e":0.0003},{"s":"DI Water","f":2.856,"y":0.9934,"e":0.0003},{"s":"DI Water","f":2.858,"y":0.9925,"e":0.0003},{"s":"DI Water","f":2.86,"y":0.9914,"e":0.0003},{"s":"DI Water","f":2.862,"y":0.9898,"e":0.0003},{"s":"DI Water","f":2.864,"y":0.9865,"e":0.0003},{"s":"DI Water","f":2.866,"y":0.982,"e":0.0003},{"s":"DI Water","f":2.868,"y":0.9748,"e":0.0003},{"s":"DI Water","f":2.87,"y":0.975,"e":0.0003},{"s":"DI Water","f":2.872,"y":0.977,"e":0.0003},{"s":"DI Water","f":2.874,"y":0.9738,"e":0.0003},{"s":"DI Water","f":2.876,"y":0.978,"e":0.0003},{"s":"DI Water","f":2.878,"y":0.9855,"e":0.0003},{"s":"DI Water","f":2.88,"y":0.9893,"e":0.0003},{"s":"DI Water","f":2.882,"y":0.9917,"e":0.0003},{"s":"DI Water","f":2.884,"y":0.9933,"e":0.0003},{"s":"DI Water","f":2.886,"y":0.9942,"e":0.0003},{"s":"DI Water","f":2.888,"y":0.9947,"e":0.0003},{"s":"DI Water","f":2.89,"y":0.9949,"e":0.0003},{"s":"DI Water","f":2.892,"y":0.9951,"e":0.0003},{"s":"DI Water","f":2.894,"y":0.9953,"e":0.0003},
{"s":"DI Water","f":2.9,"y":0.9957,"e":0.0003},{"s":"DI Water","f":2.906,"y":0.9961,"e":0.0003},{"s":"DI Water","f":2.912,"y":0.9964,"e":0.0003},{"s":"DI Water","f":2.918,"y":0.9967,"e":0.0003},{"s":"DI Water","f":2.924,"y":0.9969,"e":0.0003},{"s":"DI Water","f":2.93,"y":0.997,"e":0.0003},{"s":"DI Water","f":2.936,"y":0.9973,"e":0.0003},{"s":"DI Water","f":2.942,"y":0.9977,"e":0.0003},{"s":"DI Water","f":2.948,"y":0.9982,"e":0.0003},{"s":"DI Water","f":2.954,"y":0.9986,"e":0.0003},{"s":"DI Water","f":2.96,"y":0.999,"e":0.0003},{"s":"DI Water","f":2.966,"y":0.9994,"e":0.0003},{"s":"DI Water","f":2.97,"y":0.9996,"e":0.0003},
{"s":"100 nM","f":2.77,"y":0.9993,"e":0.0004},{"s":"100 nM","f":2.776,"y":0.9991,"e":0.0004},{"s":"100 nM","f":2.782,"y":0.999,"e":0.0004},{"s":"100 nM","f":2.788,"y":0.9989,"e":0.0004},{"s":"100 nM","f":2.794,"y":0.9987,"e":0.0004},{"s":"100 nM","f":2.8,"y":0.9985,"e":0.0004},{"s":"100 nM","f":2.806,"y":0.9984,"e":0.0004},{"s":"100 nM","f":2.812,"y":0.9984,"e":0.0004},{"s":"100 nM","f":2.818,"y":0.9983,"e":0.0004},{"s":"100 nM","f":2.824,"y":0.9982,"e":0.0004},{"s":"100 nM","f":2.83,"y":0.9981,"e":0.0004},{"s":"100 nM","f":2.836,"y":0.9978,"e":0.0004},{"s":"100 nM","f":2.842,"y":0.9974,"e":0.0004},
{"s":"100 nM","f":2.846,"y":0.9969,"e":0.0004},{"s":"100 nM","f":2.848,"y":0.9965,"e":0.0004},{"s":"100 nM","f":2.85,"y":0.996,"e":0.0004},{"s":"100 nM","f":2.852,"y":0.9953,"e":0.0004},{"s":"100 nM","f":2.854,"y":0.9947,"e":0.0004},{"s":"100 nM","f":2.856,"y":0.994,"e":0.0004},{"s":"100 nM","f":2.858,"y":0.9925,"e":0.0004},{"s":"100 nM","f":2.86,"y":0.9892,"e":0.0004},{"s":"100 nM","f":2.862,"y":0.9838,"e":0.0004},{"s":"100 nM","f":2.864,"y":0.9775,"e":0.0004},{"s":"100 nM","f":2.866,"y":0.966,"e":0.0004},{"s":"100 nM","f":2.868,"y":0.964,"e":0.0004},{"s":"100 nM","f":2.87,"y":0.966,"e":0.0004},{"s":"100 nM","f":2.872,"y":0.964,"e":0.0004},{"s":"100 nM","f":2.874,"y":0.9672,"e":0.0004},{"s":"100 nM","f":2.876,"y":0.9765,"e":0.0004},{"s":"100 nM","f":2.878,"y":0.983,"e":0.0004},{"s":"100 nM","f":2.88,"y":0.988,"e":0.0004},{"s":"100 nM","f":2.882,"y":0.992,"e":0.0004},{"s":"100 nM","f":2.884,"y":0.9939,"e":0.0004},{"s":"100 nM","f":2.886,"y":0.995,"e":0.0004},{"s":"100 nM","f":2.888,"y":0.9956,"e":0.0004},{"s":"100 nM","f":2.89,"y":0.9959,"e":0.0004},{"s":"100 nM","f":2.892,"y":0.9962,"e":0.0004},{"s":"100 nM","f":2.894,"y":0.9965,"e":0.0004},
{"s":"100 nM","f":2.9,"y":0.997,"e":0.0004},{"s":"100 nM","f":2.906,"y":0.9975,"e":0.0004},{"s":"100 nM","f":2.912,"y":0.9977,"e":0.0004},{"s":"100 nM","f":2.918,"y":0.9979,"e":0.0004},{"s":"100 nM","f":2.924,"y":0.998,"e":0.0004},{"s":"100 nM","f":2.93,"y":0.998,"e":0.0004},{"s":"100 nM","f":2.936,"y":0.9982,"e":0.0004},{"s":"100 nM","f":2.942,"y":0.9983,"e":0.0004},{"s":"100 nM","f":2.948,"y":0.9985,"e":0.0004},{"s":"100 nM","f":2.954,"y":0.9988,"e":0.0004},{"s":"100 nM","f":2.96,"y":0.9991,"e":0.0004},{"s":"100 nM","f":2.966,"y":0.9994,"e":0.0004},{"s":"100 nM","f":2.97,"y":0.9996,"e":0.0004},
{"s":"10 μM","f":2.77,"y":0.9995,"e":0.0004},{"s":"10 μM","f":2.776,"y":0.9993,"e":0.0004},{"s":"10 μM","f":2.782,"y":0.9991,"e":0.0004},{"s":"10 μM","f":2.788,"y":0.9989,"e":0.0004},{"s":"10 μM","f":2.794,"y":0.9988,"e":0.0004},{"s":"10 μM","f":2.8,"y":0.9987,"e":0.0004},{"s":"10 μM","f":2.806,"y":0.9986,"e":0.0004},{"s":"10 μM","f":2.812,"y":0.9985,"e":0.0004},{"s":"10 μM","f":2.818,"y":0.9984,"e":0.0004},{"s":"10 μM","f":2.824,"y":0.9983,"e":0.0004},{"s":"10 μM","f":2.83,"y":0.9982,"e":0.0004},{"s":"10 μM","f":2.836,"y":0.9982,"e":0.0004},{"s":"10 μM","f":2.842,"y":0.9979,"e":0.0004},
{"s":"10 μM","f":2.846,"y":0.9978,"e":0.0004},{"s":"10 μM","f":2.848,"y":0.9976,"e":0.0004},{"s":"10 μM","f":2.85,"y":0.9972,"e":0.0004},{"s":"10 μM","f":2.852,"y":0.9968,"e":0.0004},{"s":"10 μM","f":2.854,"y":0.9962,"e":0.0004},{"s":"10 μM","f":2.856,"y":0.9954,"e":0.0004},{"s":"10 μM","f":2.858,"y":0.9941,"e":0.0004},{"s":"10 μM","f":2.86,"y":0.9918,"e":0.0004},{"s":"10 μM","f":2.862,"y":0.988,"e":0.0004},{"s":"10 μM","f":2.864,"y":0.9842,"e":0.0004},{"s":"10 μM","f":2.866,"y":0.9806,"e":0.0004},{"s":"10 μM","f":2.868,"y":0.9755,"e":0.0004},{"s":"10 μM","f":2.87,"y":0.9778,"e":0.0004},{"s":"10 μM","f":2.872,"y":0.976,"e":0.0004},{"s":"10 μM","f":2.874,"y":0.979,"e":0.0004},{"s":"10 μM","f":2.876,"y":0.9865,"e":0.0004},{"s":"10 μM","f":2.878,"y":0.99,"e":0.0004},{"s":"10 μM","f":2.88,"y":0.9928,"e":0.0004},{"s":"10 μM","f":2.882,"y":0.995,"e":0.0004},{"s":"10 μM","f":2.884,"y":0.9965,"e":0.0004},{"s":"10 μM","f":2.886,"y":0.9974,"e":0.0004},{"s":"10 μM","f":2.888,"y":0.9979,"e":0.0004},{"s":"10 μM","f":2.89,"y":0.9981,"e":0.0004},{"s":"10 μM","f":2.892,"y":0.9982,"e":0.0004},{"s":"10 μM","f":2.894,"y":0.9983,"e":0.0004},
{"s":"10 μM","f":2.9,"y":0.9986,"e":0.0004},{"s":"10 μM","f":2.906,"y":0.9988,"e":0.0004},{"s":"10 μM","f":2.912,"y":0.9989,"e":0.0004},{"s":"10 μM","f":2.918,"y":0.9991,"e":0.0004},{"s":"10 μM","f":2.924,"y":0.9991,"e":0.0004},{"s":"10 μM","f":2.93,"y":0.999,"e":0.0004},{"s":"10 μM","f":2.936,"y":0.9988,"e":0.0004},{"s":"10 μM","f":2.942,"y":0.9987,"e":0.0004},{"s":"10 μM","f":2.948,"y":0.9986,"e":0.0004},{"s":"10 μM","f":2.954,"y":0.9988,"e":0.0004},{"s":"10 μM","f":2.96,"y":0.9991,"e":0.0004},{"s":"10 μM","f":2.966,"y":0.9994,"e":0.0004},{"s":"10 μM","f":2.97,"y":0.9996,"e":0.0004},
{"s":"0.5 M","f":2.77,"y":0.9986,"e":0.0005},{"s":"0.5 M","f":2.776,"y":0.9984,"e":0.0005},{"s":"0.5 M","f":2.782,"y":0.9981,"e":0.0005},{"s":"0.5 M","f":2.788,"y":0.9977,"e":0.0005},{"s":"0.5 M","f":2.794,"y":0.9974,"e":0.0005},{"s":"0.5 M","f":2.8,"y":0.997,"e":0.0005},{"s":"0.5 M","f":2.806,"y":0.9964,"e":0.0006},{"s":"0.5 M","f":2.812,"y":0.9959,"e":0.0006},{"s":"0.5 M","f":2.818,"y":0.9955,"e":0.0006},{"s":"0.5 M","f":2.824,"y":0.9951,"e":0.0007},{"s":"0.5 M","f":2.83,"y":0.9948,"e":0.0007},{"s":"0.5 M","f":2.836,"y":0.9942,"e":0.0008},{"s":"0.5 M","f":2.842,"y":0.9934,"e":0.0008},
{"s":"0.5 M","f":2.846,"y":0.9925,"e":0.0006},{"s":"0.5 M","f":2.848,"y":0.9915,"e":0.0006},{"s":"0.5 M","f":2.85,"y":0.9905,"e":0.0006},{"s":"0.5 M","f":2.852,"y":0.99,"e":0.0005},{"s":"0.5 M","f":2.854,"y":0.9893,"e":0.0005},{"s":"0.5 M","f":2.856,"y":0.9882,"e":0.0005},{"s":"0.5 M","f":2.858,"y":0.9855,"e":0.0005},{"s":"0.5 M","f":2.86,"y":0.98,"e":0.0005},{"s":"0.5 M","f":2.862,"y":0.973,"e":0.0005},{"s":"0.5 M","f":2.864,"y":0.9676,"e":0.0005},{"s":"0.5 M","f":2.866,"y":0.9643,"e":0.0005},{"s":"0.5 M","f":2.868,"y":0.9695,"e":0.0005},{"s":"0.5 M","f":2.87,"y":0.9663,"e":0.0005},{"s":"0.5 M","f":2.872,"y":0.9699,"e":0.0005},{"s":"0.5 M","f":2.874,"y":0.9775,"e":0.0005},{"s":"0.5 M","f":2.876,"y":0.985,"e":0.0005},{"s":"0.5 M","f":2.878,"y":0.9888,"e":0.0005},{"s":"0.5 M","f":2.88,"y":0.9903,"e":0.0005},{"s":"0.5 M","f":2.882,"y":0.992,"e":0.0006},{"s":"0.5 M","f":2.884,"y":0.9929,"e":0.0006},{"s":"0.5 M","f":2.886,"y":0.9933,"e":0.0006},{"s":"0.5 M","f":2.888,"y":0.9935,"e":0.0006},{"s":"0.5 M","f":2.89,"y":0.9937,"e":0.0006},{"s":"0.5 M","f":2.892,"y":0.9939,"e":0.0006},{"s":"0.5 M","f":2.894,"y":0.9941,"e":0.0006},
{"s":"0.5 M","f":2.9,"y":0.9947,"e":0.0006},{"s":"0.5 M","f":2.906,"y":0.9955,"e":0.0006},{"s":"0.5 M","f":2.912,"y":0.996,"e":0.0006},{"s":"0.5 M","f":2.918,"y":0.9964,"e":0.0006},{"s":"0.5 M","f":2.924,"y":0.9966,"e":0.0005},{"s":"0.5 M","f":2.93,"y":0.9968,"e":0.0005},{"s":"0.5 M","f":2.936,"y":0.997,"e":0.0005},{"s":"0.5 M","f":2.942,"y":0.9975,"e":0.0004},{"s":"0.5 M","f":2.948,"y":0.998,"e":0.0004},{"s":"0.5 M","f":2.954,"y":0.9985,"e":0.0004},{"s":"0.5 M","f":2.96,"y":0.999,"e":0.0004},{"s":"0.5 M","f":2.966,"y":0.9994,"e":0.0004},{"s":"0.5 M","f":2.97,"y":0.9996,"e":0.0004},
{"s":"1 M","f":2.77,"y":0.9982,"e":0.0006},{"s":"1 M","f":2.776,"y":0.9981,"e":0.0006},{"s":"1 M","f":2.782,"y":0.998,"e":0.0006},{"s":"1 M","f":2.788,"y":0.9978,"e":0.0006},{"s":"1 M","f":2.794,"y":0.9975,"e":0.0006},{"s":"1 M","f":2.8,"y":0.9971,"e":0.0006},{"s":"1 M","f":2.806,"y":0.9967,"e":0.0006},{"s":"1 M","f":2.812,"y":0.9964,"e":0.0006},{"s":"1 M","f":2.818,"y":0.9962,"e":0.0006},{"s":"1 M","f":2.824,"y":0.996,"e":0.0006},{"s":"1 M","f":2.83,"y":0.9958,"e":0.0006},{"s":"1 M","f":2.836,"y":0.9956,"e":0.0006},{"s":"1 M","f":2.842,"y":0.9954,"e":0.0006},
{"s":"1 M","f":2.846,"y":0.9952,"e":0.0005},{"s":"1 M","f":2.848,"y":0.995,"e":0.0005},{"s":"1 M","f":2.85,"y":0.9948,"e":0.0005},{"s":"1 M","f":2.852,"y":0.9944,"e":0.0005},{"s":"1 M","f":2.854,"y":0.9935,"e":0.0005},{"s":"1 M","f":2.856,"y":0.9928,"e":0.0005},{"s":"1 M","f":2.858,"y":0.9922,"e":0.0005},{"s":"1 M","f":2.86,"y":0.9902,"e":0.0005},{"s":"1 M","f":2.862,"y":0.986,"e":0.0005},{"s":"1 M","f":2.864,"y":0.98,"e":0.0005},{"s":"1 M","f":2.866,"y":0.972,"e":0.0005},{"s":"1 M","f":2.868,"y":0.9732,"e":0.0005},{"s":"1 M","f":2.87,"y":0.9728,"e":0.0005},{"s":"1 M","f":2.872,"y":0.972,"e":0.0005},{"s":"1 M","f":2.874,"y":0.9765,"e":0.0005},{"s":"1 M","f":2.876,"y":0.9838,"e":0.0005},{"s":"1 M","f":2.878,"y":0.9895,"e":0.0005},{"s":"1 M","f":2.88,"y":0.9925,"e":0.0005},{"s":"1 M","f":2.882,"y":0.9943,"e":0.0005},{"s":"1 M","f":2.884,"y":0.995,"e":0.0005},{"s":"1 M","f":2.886,"y":0.9955,"e":0.0005},{"s":"1 M","f":2.888,"y":0.9958,"e":0.0005},{"s":"1 M","f":2.89,"y":0.996,"e":0.0005},{"s":"1 M","f":2.892,"y":0.9961,"e":0.0005},{"s":"1 M","f":2.894,"y":0.9963,"e":0.0005},
{"s":"1 M","f":2.9,"y":0.9967,"e":0.0004},{"s":"1 M","f":2.906,"y":0.9971,"e":0.0004},{"s":"1 M","f":2.912,"y":0.9973,"e":0.0004},{"s":"1 M","f":2.918,"y":0.9975,"e":0.0004},{"s":"1 M","f":2.924,"y":0.9977,"e":0.0004},{"s":"1 M","f":2.93,"y":0.9978,"e":0.0004},{"s":"1 M","f":2.936,"y":0.998,"e":0.0004},{"s":"1 M","f":2.942,"y":0.9983,"e":0.0004},{"s":"1 M","f":2.948,"y":0.9986,"e":0.0004},{"s":"1 M","f":2.954,"y":0.9988,"e":0.0004},{"s":"1 M","f":2.96,"y":0.9991,"e":0.0004},{"s":"1 M","f":2.966,"y":0.9993,"e":0.0004},{"s":"1 M","f":2.97,"y":0.9994,"e":0.0004}
],
"D":[
{"s":"DI Water","f":2.77,"y":1.0,"e":0.0002},{"s":"DI Water","f":2.776,"y":0.9999,"e":0.0002},{"s":"DI Water","f":2.782,"y":0.9998,"e":0.0002},{"s":"DI Water","f":2.788,"y":0.9996,"e":0.0002},{"s":"DI Water","f":2.794,"y":0.9994,"e":0.0002},{"s":"DI Water","f":2.8,"y":0.9993,"e":0.0002},{"s":"DI Water","f":2.806,"y":0.9991,"e":0.0002},{"s":"DI Water","f":2.812,"y":0.9989,"e":0.0002},{"s":"DI Water","f":2.818,"y":0.9986,"e":0.0002},{"s":"DI Water","f":2.824,"y":0.9982,"e":0.0002},{"s":"DI Water","f":2.83,"y":0.9976,"e":0.0002},{"s":"DI Water","f":2.836,"y":0.9962,"e":0.0002},{"s":"DI Water","f":2.842,"y":0.9942,"e":0.0003},
{"s":"DI Water","f":2.846,"y":0.992,"e":0.0003},{"s":"DI Water","f":2.848,"y":0.9902,"e":0.0003},{"s":"DI Water","f":2.85,"y":0.9888,"e":0.0003},{"s":"DI Water","f":2.852,"y":0.986,"e":0.0003},{"s":"DI Water","f":2.854,"y":0.9843,"e":0.0003},{"s":"DI Water","f":2.856,"y":0.981,"e":0.0003},{"s":"DI Water","f":2.858,"y":0.9762,"e":0.0004},{"s":"DI Water","f":2.86,"y":0.9705,"e":0.0004},{"s":"DI Water","f":2.862,"y":0.9645,"e":0.0004},{"s":"DI Water","f":2.864,"y":0.958,"e":0.0004},{"s":"DI Water","f":2.866,"y":0.952,"e":0.0004},{"s":"DI Water","f":2.868,"y":0.95,"e":0.0004},{"s":"DI Water","f":2.87,"y":0.9506,"e":0.0004},{"s":"DI Water","f":2.872,"y":0.9497,"e":0.0004},{"s":"DI Water","f":2.874,"y":0.9515,"e":0.0004},{"s":"DI Water","f":2.876,"y":0.957,"e":0.0004},{"s":"DI Water","f":2.878,"y":0.9642,"e":0.0004},{"s":"DI Water","f":2.88,"y":0.9722,"e":0.0004},{"s":"DI Water","f":2.882,"y":0.9775,"e":0.0004},{"s":"DI Water","f":2.884,"y":0.9825,"e":0.0004},{"s":"DI Water","f":2.886,"y":0.9862,"e":0.0003},{"s":"DI Water","f":2.888,"y":0.9892,"e":0.0003},{"s":"DI Water","f":2.89,"y":0.9918,"e":0.0003},{"s":"DI Water","f":2.892,"y":0.994,"e":0.0003},{"s":"DI Water","f":2.894,"y":0.9953,"e":0.0003},
{"s":"DI Water","f":2.9,"y":0.9975,"e":0.0003},{"s":"DI Water","f":2.906,"y":0.9983,"e":0.0003},{"s":"DI Water","f":2.912,"y":0.9988,"e":0.0003},{"s":"DI Water","f":2.918,"y":0.999,"e":0.0003},{"s":"DI Water","f":2.924,"y":0.9992,"e":0.0003},{"s":"DI Water","f":2.93,"y":0.9994,"e":0.0003},{"s":"DI Water","f":2.936,"y":0.9997,"e":0.0003},{"s":"DI Water","f":2.942,"y":1.0004,"e":0.0004},{"s":"DI Water","f":2.948,"y":1.0011,"e":0.0004},{"s":"DI Water","f":2.954,"y":1.0016,"e":0.0004},{"s":"DI Water","f":2.96,"y":1.0019,"e":0.0004},{"s":"DI Water","f":2.966,"y":1.0021,"e":0.0004},{"s":"DI Water","f":2.97,"y":1.0022,"e":0.0004},
{"s":"100 nM","f":2.77,"y":1.0,"e":0.0002},{"s":"100 nM","f":2.776,"y":0.9999,"e":0.0002},{"s":"100 nM","f":2.782,"y":0.9998,"e":0.0002},{"s":"100 nM","f":2.788,"y":0.9996,"e":0.0002},{"s":"100 nM","f":2.794,"y":0.9995,"e":0.0002},{"s":"100 nM","f":2.8,"y":0.9993,"e":0.0002},{"s":"100 nM","f":2.806,"y":0.9991,"e":0.0002},{"s":"100 nM","f":2.812,"y":0.9989,"e":0.0002},{"s":"100 nM","f":2.818,"y":0.9986,"e":0.0002},{"s":"100 nM","f":2.824,"y":0.9983,"e":0.0002},{"s":"100 nM","f":2.83,"y":0.9978,"e":0.0002},{"s":"100 nM","f":2.836,"y":0.9968,"e":0.0002},{"s":"100 nM","f":2.842,"y":0.9955,"e":0.0003},
{"s":"100 nM","f":2.846,"y":0.9935,"e":0.0003},{"s":"100 nM","f":2.848,"y":0.9922,"e":0.0003},{"s":"100 nM","f":2.85,"y":0.991,"e":0.0003},{"s":"100 nM","f":2.852,"y":0.9898,"e":0.0003},{"s":"100 nM","f":2.854,"y":0.9874,"e":0.0003},{"s":"100 nM","f":2.856,"y":0.985,"e":0.0003},{"s":"100 nM","f":2.858,"y":0.9803,"e":0.0004},{"s":"100 nM","f":2.86,"y":0.9757,"e":0.0004},{"s":"100 nM","f":2.862,"y":0.9697,"e":0.0004},{"s":"100 nM","f":2.864,"y":0.9625,"e":0.0004},{"s":"100 nM","f":2.866,"y":0.9548,"e":0.0004},{"s":"100 nM","f":2.868,"y":0.954,"e":0.0004},{"s":"100 nM","f":2.87,"y":0.9527,"e":0.0004},{"s":"100 nM","f":2.872,"y":0.954,"e":0.0004},{"s":"100 nM","f":2.874,"y":0.955,"e":0.0004},{"s":"100 nM","f":2.876,"y":0.9595,"e":0.0004},{"s":"100 nM","f":2.878,"y":0.967,"e":0.0004},{"s":"100 nM","f":2.88,"y":0.9755,"e":0.0004},{"s":"100 nM","f":2.882,"y":0.981,"e":0.0004},{"s":"100 nM","f":2.884,"y":0.9855,"e":0.0004},{"s":"100 nM","f":2.886,"y":0.9888,"e":0.0003},{"s":"100 nM","f":2.888,"y":0.9912,"e":0.0003},{"s":"100 nM","f":2.89,"y":0.993,"e":0.0003},{"s":"100 nM","f":2.892,"y":0.9953,"e":0.0003},{"s":"100 nM","f":2.894,"y":0.9964,"e":0.0003},
{"s":"100 nM","f":2.9,"y":0.9978,"e":0.0003},{"s":"100 nM","f":2.906,"y":0.9985,"e":0.0003},{"s":"100 nM","f":2.912,"y":0.9987,"e":0.0003},{"s":"100 nM","f":2.918,"y":0.9987,"e":0.0003},{"s":"100 nM","f":2.924,"y":0.9986,"e":0.0003},{"s":"100 nM","f":2.93,"y":0.9984,"e":0.0003},{"s":"100 nM","f":2.936,"y":0.9988,"e":0.0003},{"s":"100 nM","f":2.942,"y":0.9993,"e":0.0003},{"s":"100 nM","f":2.948,"y":0.9998,"e":0.0003},{"s":"100 nM","f":2.954,"y":1.0002,"e":0.0003},{"s":"100 nM","f":2.96,"y":1.0004,"e":0.0003},{"s":"100 nM","f":2.966,"y":1.0006,"e":0.0003},{"s":"100 nM","f":2.97,"y":1.0008,"e":0.0003},
{"s":"10 μM","f":2.77,"y":1.0025,"e":0.0012},{"s":"10 μM","f":2.772,"y":1.0023,"e":0.0012},{"s":"10 μM","f":2.776,"y":0.9994,"e":0.0004},{"s":"10 μM","f":2.782,"y":0.9993,"e":0.0004},{"s":"10 μM","f":2.788,"y":0.9993,"e":0.0004},{"s":"10 μM","f":2.794,"y":0.9992,"e":0.0004},{"s":"10 μM","f":2.8,"y":0.999,"e":0.0004},{"s":"10 μM","f":2.806,"y":0.9988,"e":0.0004},{"s":"10 μM","f":2.812,"y":0.9985,"e":0.0004},{"s":"10 μM","f":2.818,"y":0.9982,"e":0.0004},{"s":"10 μM","f":2.824,"y":0.9983,"e":0.0004},{"s":"10 μM","f":2.83,"y":0.998,"e":0.0003},{"s":"10 μM","f":2.836,"y":0.9974,"e":0.0003},{"s":"10 μM","f":2.842,"y":0.9962,"e":0.0003},
{"s":"10 μM","f":2.846,"y":0.995,"e":0.0003},{"s":"10 μM","f":2.848,"y":0.9935,"e":0.0003},{"s":"10 μM","f":2.85,"y":0.9922,"e":0.0003},{"s":"10 μM","f":2.852,"y":0.991,"e":0.0003},{"s":"10 μM","f":2.854,"y":0.9895,"e":0.0003},{"s":"10 μM","f":2.856,"y":0.988,"e":0.0003},{"s":"10 μM","f":2.858,"y":0.985,"e":0.0004},{"s":"10 μM","f":2.86,"y":0.9808,"e":0.0004},{"s":"10 μM","f":2.862,"y":0.9762,"e":0.0004},{"s":"10 μM","f":2.864,"y":0.972,"e":0.0004},{"s":"10 μM","f":2.866,"y":0.9655,"e":0.0004},{"s":"10 μM","f":2.868,"y":0.96,"e":0.0004},{"s":"10 μM","f":2.87,"y":0.9602,"e":0.0004},{"s":"10 μM","f":2.872,"y":0.9595,"e":0.0004},{"s":"10 μM","f":2.874,"y":0.961,"e":0.0004},{"s":"10 μM","f":2.876,"y":0.964,"e":0.0004},{"s":"10 μM","f":2.878,"y":0.973,"e":0.0004},{"s":"10 μM","f":2.88,"y":0.9808,"e":0.0004},{"s":"10 μM","f":2.882,"y":0.986,"e":0.0004},{"s":"10 μM","f":2.884,"y":0.9895,"e":0.0004},{"s":"10 μM","f":2.886,"y":0.9928,"e":0.0003},{"s":"10 μM","f":2.888,"y":0.9943,"e":0.0003},{"s":"10 μM","f":2.89,"y":0.9955,"e":0.0003},{"s":"10 μM","f":2.892,"y":0.9967,"e":0.0003},{"s":"10 μM","f":2.894,"y":0.9975,"e":0.0003},
{"s":"10 μM","f":2.9,"y":0.9986,"e":0.0003},{"s":"10 μM","f":2.906,"y":0.999,"e":0.0003},{"s":"10 μM","f":2.912,"y":0.9993,"e":0.0003},{"s":"10 μM","f":2.918,"y":0.9995,"e":0.0003},{"s":"10 μM","f":2.924,"y":0.9996,"e":0.0003},{"s":"10 μM","f":2.93,"y":0.9996,"e":0.0003},{"s":"10 μM","f":2.936,"y":0.9996,"e":0.0003},{"s":"10 μM","f":2.942,"y":0.9998,"e":0.0003},{"s":"10 μM","f":2.948,"y":1.0,"e":0.0003},{"s":"10 μM","f":2.954,"y":1.0002,"e":0.0003},{"s":"10 μM","f":2.96,"y":1.0003,"e":0.0003},{"s":"10 μM","f":2.966,"y":1.0004,"e":0.0003},{"s":"10 μM","f":2.97,"y":1.0005,"e":0.0003},
{"s":"1 mM","f":2.77,"y":1.0001,"e":0.0003},{"s":"1 mM","f":2.776,"y":1.0,"e":0.0003},{"s":"1 mM","f":2.782,"y":1.0,"e":0.0003},{"s":"1 mM","f":2.788,"y":1.0,"e":0.0003},{"s":"1 mM","f":2.794,"y":0.9999,"e":0.0003},{"s":"1 mM","f":2.8,"y":0.9999,"e":0.0003},{"s":"1 mM","f":2.806,"y":0.9998,"e":0.0003},{"s":"1 mM","f":2.812,"y":0.9997,"e":0.0003},{"s":"1 mM","f":2.818,"y":0.9996,"e":0.0003},{"s":"1 mM","f":2.824,"y":0.9994,"e":0.0003},{"s":"1 mM","f":2.83,"y":0.9991,"e":0.0003},{"s":"1 mM","f":2.836,"y":0.9988,"e":0.0003},{"s":"1 mM","f":2.842,"y":0.9984,"e":0.0003},
{"s":"1 mM","f":2.846,"y":0.9982,"e":0.0003},{"s":"1 mM","f":2.848,"y":0.9981,"e":0.0003},{"s":"1 mM","f":2.85,"y":0.9978,"e":0.0003},{"s":"1 mM","f":2.852,"y":0.9974,"e":0.0003},{"s":"1 mM","f":2.854,"y":0.9969,"e":0.0003},{"s":"1 mM","f":2.856,"y":0.9959,"e":0.0003},{"s":"1 mM","f":2.858,"y":0.9949,"e":0.0003},{"s":"1 mM","f":2.86,"y":0.993,"e":0.0003},{"s":"1 mM","f":2.862,"y":0.991,"e":0.0003},{"s":"1 mM","f":2.864,"y":0.9878,"e":0.0003},{"s":"1 mM","f":2.866,"y":0.9856,"e":0.0003},{"s":"1 mM","f":2.868,"y":0.983,"e":0.0003},{"s":"1 mM","f":2.87,"y":0.9822,"e":0.0003},{"s":"1 mM","f":2.872,"y":0.9825,"e":0.0003},{"s":"1 mM","f":2.874,"y":0.9835,"e":0.0003},{"s":"1 mM","f":2.876,"y":0.9866,"e":0.0003},{"s":"1 mM","f":2.878,"y":0.9905,"e":0.0003},{"s":"1 mM","f":2.88,"y":0.9925,"e":0.0003},{"s":"1 mM","f":2.882,"y":0.9945,"e":0.0003},{"s":"1 mM","f":2.884,"y":0.9956,"e":0.0003},{"s":"1 mM","f":2.886,"y":0.9963,"e":0.0003},{"s":"1 mM","f":2.888,"y":0.997,"e":0.0003},{"s":"1 mM","f":2.89,"y":0.9976,"e":0.0003},{"s":"1 mM","f":2.892,"y":0.9981,"e":0.0003},{"s":"1 mM","f":2.894,"y":0.9985,"e":0.0003},
{"s":"1 mM","f":2.9,"y":0.999,"e":0.0003},{"s":"1 mM","f":2.906,"y":0.9992,"e":0.0003},{"s":"1 mM","f":2.912,"y":0.9993,"e":0.0003},{"s":"1 mM","f":2.918,"y":0.9993,"e":0.0003},{"s":"1 mM","f":2.924,"y":0.9993,"e":0.0003},{"s":"1 mM","f":2.93,"y":0.9993,"e":0.0003},{"s":"1 mM","f":2.936,"y":0.9994,"e":0.0003},{"s":"1 mM","f":2.942,"y":0.9995,"e":0.0003},{"s":"1 mM","f":2.948,"y":0.9996,"e":0.0003},{"s":"1 mM","f":2.954,"y":0.9998,"e":0.0003},{"s":"1 mM","f":2.96,"y":0.9999,"e":0.0003},{"s":"1 mM","f":2.966,"y":1.0,"e":0.0003},{"s":"1 mM","f":2.97,"y":1.0001,"e":0.0003},
{"s":"0.1 M","f":2.77,"y":1.0002,"e":0.0002},{"s":"0.1 M","f":2.776,"y":1.0001,"e":0.0002},{"s":"0.1 M","f":2.782,"y":1.0001,"e":0.0002},{"s":"0.1 M","f":2.788,"y":1.0002,"e":0.0002},{"s":"0.1 M","f":2.794,"y":1.0002,"e":0.0002},{"s":"0.1 M","f":2.8,"y":1.0003,"e":0.0002},{"s":"0.1 M","f":2.806,"y":1.0002,"e":0.0002},{"s":"0.1 M","f":2.812,"y":1.0001,"e":0.0002},{"s":"0.1 M","f":2.818,"y":1.0,"e":0.0002},{"s":"0.1 M","f":2.824,"y":1.0,"e":0.0002},{"s":"0.1 M","f":2.83,"y":1.0,"e":0.0002},{"s":"0.1 M","f":2.836,"y":0.9999,"e":0.0002},{"s":"0.1 M","f":2.842,"y":0.9999,"e":0.0002},
{"s":"0.1 M","f":2.846,"y":0.9999,"e":0.0002},{"s":"0.1 M","f":2.848,"y":0.9998,"e":0.0002},{"s":"0.1 M","f":2.85,"y":0.9998,"e":0.0002},{"s":"0.1 M","f":2.852,"y":0.9998,"e":0.0002},{"s":"0.1 M","f":2.854,"y":0.9997,"e":0.0002},{"s":"0.1 M","f":2.856,"y":0.9997,"e":0.0002},{"s":"0.1 M","f":2.858,"y":0.9996,"e":0.0002},{"s":"0.1 M","f":2.86,"y":0.9995,"e":0.0002},{"s":"0.1 M","f":2.862,"y":0.9992,"e":0.0002},{"s":"0.1 M","f":2.864,"y":0.9988,"e":0.0002},{"s":"0.1 M","f":2.866,"y":0.998,"e":0.0003},{"s":"0.1 M","f":2.868,"y":0.9975,"e":0.0003},{"s":"0.1 M","f":2.87,"y":0.9968,"e":0.0003},{"s":"0.1 M","f":2.872,"y":0.9974,"e":0.0003},{"s":"0.1 M","f":2.874,"y":0.9978,"e":0.0003},{"s":"0.1 M","f":2.876,"y":0.9988,"e":0.0002},{"s":"0.1 M","f":2.878,"y":0.9993,"e":0.0002},{"s":"0.1 M","f":2.88,"y":0.9996,"e":0.0002},{"s":"0.1 M","f":2.882,"y":0.9997,"e":0.0002},{"s":"0.1 M","f":2.884,"y":0.9998,"e":0.0002},{"s":"0.1 M","f":2.886,"y":0.9998,"e":0.0002},{"s":"0.1 M","f":2.888,"y":0.9999,"e":0.0002},{"s":"0.1 M","f":2.89,"y":0.9999,"e":0.0002},{"s":"0.1 M","f":2.892,"y":1.0,"e":0.0002},{"s":"0.1 M","f":2.894,"y":1.0,"e":0.0002},
{"s":"0.1 M","f":2.9,"y":1.0,"e":0.0002},{"s":"0.1 M","f":2.906,"y":1.0,"e":0.0002},{"s":"0.1 M","f":2.912,"y":0.9999,"e":0.0002},{"s":"0.1 M","f":2.918,"y":0.9999,"e":0.0002},{"s":"0.1 M","f":2.924,"y":1.0,"e":0.0002},{"s":"0.1 M","f":2.93,"y":1.0,"e":0.0002},{"s":"0.1 M","f":2.936,"y":1.0,"e":0.0002},{"s":"0.1 M","f":2.942,"y":1.0001,"e":0.0002},{"s":"0.1 M","f":2.948,"y":1.0001,"e":0.0002},{"s":"0.1 M","f":2.954,"y":1.0002,"e":0.0002},{"s":"0.1 M","f":2.96,"y":1.0002,"e":0.0002},{"s":"0.1 M","f":2.966,"y":1.0002,"e":0.0002},{"s":"0.1 M","f":2.97,"y":1.0002,"e":0.0002},
{"s":"1 M","f":2.77,"y":1.0001,"e":0.0004},{"s":"1 M","f":2.776,"y":1.0,"e":0.0004},{"s":"1 M","f":2.782,"y":1.0001,"e":0.0004},{"s":"1 M","f":2.788,"y":1.0,"e":0.0004},{"s":"1 M","f":2.794,"y":1.0001,"e":0.0004},{"s":"1 M","f":2.8,"y":1.0,"e":0.0004},{"s":"1 M","f":2.806,"y":1.0001,"e":0.0004},{"s":"1 M","f":2.812,"y":1.0,"e":0.0004},{"s":"1 M","f":2.818,"y":1.0002,"e":0.0004},{"s":"1 M","f":2.824,"y":1.0001,"e":0.0004},{"s":"1 M","f":2.83,"y":1.0002,"e":0.0004},{"s":"1 M","f":2.836,"y":1.0002,"e":0.0004},{"s":"1 M","f":2.842,"y":1.0003,"e":0.0004},
{"s":"1 M","f":2.846,"y":1.0002,"e":0.0004},{"s":"1 M","f":2.848,"y":1.0002,"e":0.0004},{"s":"1 M","f":2.85,"y":1.0001,"e":0.0004},{"s":"1 M","f":2.852,"y":1.0002,"e":0.0004},{"s":"1 M","f":2.854,"y":1.0002,"e":0.0004},{"s":"1 M","f":2.856,"y":1.0001,"e":0.0004},{"s":"1 M","f":2.858,"y":1.0,"e":0.0004},{"s":"1 M","f":2.86,"y":1.0001,"e":0.0004},{"s":"1 M","f":2.862,"y":1.0,"e":0.0004},{"s":"1 M","f":2.864,"y":0.9995,"e":0.0004},{"s":"1 M","f":2.866,"y":0.9993,"e":0.0004},{"s":"1 M","f":2.868,"y":0.999,"e":0.0004},{"s":"1 M","f":2.87,"y":0.9991,"e":0.0004},{"s":"1 M","f":2.872,"y":0.999,"e":0.0004},{"s":"1 M","f":2.874,"y":0.9993,"e":0.0004},{"s":"1 M","f":2.876,"y":0.9997,"e":0.0004},{"s":"1 M","f":2.878,"y":1.0,"e":0.0004},{"s":"1 M","f":2.88,"y":1.0003,"e":0.0004},{"s":"1 M","f":2.882,"y":1.0005,"e":0.0004},{"s":"1 M","f":2.884,"y":1.0004,"e":0.0004},{"s":"1 M","f":2.886,"y":1.0006,"e":0.0004},{"s":"1 M","f":2.888,"y":1.0005,"e":0.0004},{"s":"1 M","f":2.89,"y":1.0004,"e":0.0004},{"s":"1 M","f":2.892,"y":1.0005,"e":0.0004},{"s":"1 M","f":2.894,"y":1.0004,"e":0.0004},
{"s":"1 M","f":2.9,"y":1.0004,"e":0.0004},{"s":"1 M","f":2.906,"y":1.0003,"e":0.0004},{"s":"1 M","f":2.912,"y":1.0004,"e":0.0004},{"s":"1 M","f":2.918,"y":1.0003,"e":0.0004},{"s":"1 M","f":2.924,"y":1.0002,"e":0.0004},{"s":"1 M","f":2.93,"y":1.0003,"e":0.0004},{"s":"1 M","f":2.936,"y":1.0004,"e":0.0004},{"s":"1 M","f":2.942,"y":1.0003,"e":0.0004},{"s":"1 M","f":2.948,"y":1.0002,"e":0.0004},{"s":"1 M","f":2.954,"y":1.0003,"e":0.0004},{"s":"1 M","f":2.96,"y":1.0003,"e":0.0004},{"s":"1 M","f":2.966,"y":1.0003,"e":0.0004},{"s":"1 M","f":2.97,"y":1.0003,"e":0.0004}
]},
"vconcat":[
{"hconcat":[
{"width":473,"height":351,"data":{"name":"A"},"resolve":{"axis":{"x":"independent","y":"independent"}},
"layer":[
{"mark":{"type":"errorbar","ticks":{"size":5},"thickness":1,"opacity":0.75},"encoding":{
"x":{"field":"f","type":"quantitative","scale":{"domain":[2.77,2.97],"nice":false,"zero":false},"axis":null},
"y":{"field":"y","type":"quantitative","scale":{"domain":[0.953,1.003],"nice":false,"zero":false},"axis":null},
"yError":{"field":"e"},
"color":{"field":"s","type":"nominal","scale":{"domain":["DI Water","100 nM","10 μM","0.5 M","1 M"],"range":["#000000","#8B1A8B","#118C11","#2323C8","#FF8C1A"]},"legend":{"orient":"none","legendX":289.5,"legendY":158.5,"title":null,"labelOffset":17.5}}}},
{"mark":{"type":"line","strokeWidth":1},"encoding":{
"x":{"field":"f","type":"quantitative","scale":{"domain":[2.77,2.97],"nice":false,"zero":false},"axis":{"orient":"bottom","values":[2.8,2.84,2.88,2.92,2.96],"format":".2f","title":"Frequency \u00a0(GHz)","tickSize":8,"tickWidth":2,"domainWidth":2,"labelPadding":2,"titlePadding":17}},
"y":{"field":"y","type":"quantitative","scale":{"domain":[0.953,1.003],"nice":false,"zero":false},"axis":{"orient":"left","values":[0.96,0.97,0.98,0.99,1.0],"format":".2f","title":"Normalized \u00a0PL","tickSize":8,"tickWidth":2,"domainWidth":2,"labelPadding":6,"titlePadding":19}},
"color":{"field":"s","type":"nominal","scale":{"domain":["DI Water","100 nM","10 μM","0.5 M","1 M"],"range":["#000000","#8B1A8B","#118C11","#2323C8","#FF8C1A"]},"legend":{"orient":"none","legendX":289.5,"legendY":158.5,"title":null,"labelOffset":17.5}}}},
{"mark":{"type":"square","size":5,"opacity":1},"encoding":{
"x":{"field":"f","type":"quantitative","scale":{"domain":[2.77,2.97],"nice":false,"zero":false},"axis":{"orient":"top","values":[2.8,2.84,2.88,2.92,2.96],"labels":false,"title":null,"tickSize":-8,"tickWidth":2,"domainWidth":2}},
"y":{"field":"y","type":"quantitative","scale":{"domain":[0.953,1.003],"nice":false,"zero":false},"axis":{"orient":"right","values":[0.96,0.97,0.98,0.99,1.0],"labels":false,"title":null,"tickSize":-8,"tickWidth":2,"domainWidth":2}},
"color":{"field":"s","type":"nominal","scale":{"domain":["DI Water","100 nM","10 μM","0.5 M","1 M"],"range":["#000000","#8B1A8B","#118C11","#2323C8","#FF8C1A"]},"legend":{"orient":"none","legendX":289.5,"legendY":158.5,"title":null,"labelOffset":17.5}}}},
{"data":{"values":[{"t":"(A) Gd(NO"}]},"mark":{"type":"text","align":"left","baseline":"alphabetic","font":"Liberation Sans","fontSize":35,"fontWeight":"bold","color":"#000"},"encoding":{
"x":{"datum":2.7722,"type":"quantitative","scale":{"domain":[2.77,2.97],"nice":false,"zero":false},"axis":{"orient":"bottom","values":[2.78,2.82,2.86,2.9,2.94],"labels":false,"title":null,"domain":false,"tickSize":4,"tickWidth":1.5}},
"y":{"datum":0.95656,"type":"quantitative","scale":{"domain":[0.953,1.003],"nice":false,"zero":false},"axis":{"orient":"left","values":[0.955,0.965,0.975,0.985,0.995],"labels":false,"title":null,"domain":false,"tickSize":4,"tickWidth":1.5}},
"text":{"field":"t"}}},
{"data":{"values":[{"t":"3"}]},"mark":{"type":"text","align":"left","baseline":"alphabetic","font":"Liberation Sans","fontSize":22,"fontWeight":"bold","color":"#000"},"encoding":{
"x":{"datum":2.8459,"type":"quantitative","scale":{"domain":[2.77,2.97],"nice":false,"zero":false},"axis":{"orient":"top","values":[2.78,2.82,2.86,2.9,2.94],"labels":false,"title":null,"domain":false,"tickSize":-4,"tickWidth":1.5}},
"y":{"datum":0.95514,"type":"quantitative","scale":{"domain":[0.953,1.003],"nice":false,"zero":false},"axis":{"orient":"right","values":[0.955,0.965,0.975,0.985,0.995],"labels":false,"title":null,"domain":false,"tickSize":-4,"tickWidth":1.5}},
"text":{"field":"t"}}},
{"data":{"values":[{"t":")"}]},"mark":{"type":"text","align":"left","baseline":"alphabetic","font":"Liberation Sans","fontSize":35,"fontWeight":"bold","color":"#000"},"encoding":{
"x":{"datum":2.8512,"type":"quantitative","scale":{"domain":[2.77,2.97],"nice":false,"zero":false},"axis":null},
"y":{"datum":0.95656,"type":"quantitative","scale":{"domain":[0.953,1.003],"nice":false,"zero":false},"axis":null},
"text":{"field":"t"}}},
{"data":{"values":[{"t":"3"}]},"mark":{"type":"text","align":"left","baseline":"alphabetic","font":"Liberation Sans","fontSize":22,"fontWeight":"bold","color":"#000"},"encoding":{
"x":{"datum":2.8566,"type":"quantitative","scale":{"domain":[2.77,2.97],"nice":false,"zero":false},"axis":null},
"y":{"datum":0.95514,"type":"quantitative","scale":{"domain":[0.953,1.003],"nice":false,"zero":false},"axis":null},
"text":{"field":"t"}}}
]},
{"width":474,"height":350,"data":{"name":"B"},"resolve":{"axis":{"x":"independent","y":"independent"}},
"layer":[
{"mark":{"type":"errorbar","ticks":{"size":5},"thickness":1,"opacity":0.75},"encoding":{
"x":{"field":"f","type":"quantitative","scale":{"domain":[2.77,2.97],"nice":false,"zero":false},"axis":null},
"y":{"field":"y","type":"quantitative","scale":{"domain":[0.97,1.0018],"nice":false,"zero":false},"axis":null},
"yError":{"field":"e"},
"color":{"field":"s","type":"nominal","scale":{"domain":["DI Water","100 nM","10 μM","0.5 M","1 M"],"range":["#000000","#8B1A8B","#118C11","#2323C8","#FF8C1A"]},"legend":{"orient":"none","legendX":293.5,"legendY":158.5,"title":null,"labelOffset":18.5}}}},
{"mark":{"type":"line","strokeWidth":1},"encoding":{
"x":{"field":"f","type":"quantitative","scale":{"domain":[2.77,2.97],"nice":false,"zero":false},"axis":{"orient":"bottom","values":[2.8,2.84,2.88,2.92,2.96],"format":".2f","title":"Frequency \u00a0(GHz)","tickSize":8,"tickWidth":2,"domainWidth":2,"labelPadding":2,"titlePadding":17}},
"y":{"field":"y","type":"quantitative","scale":{"domain":[0.97,1.0018],"nice":false,"zero":false},"axis":{"orient":"left","values":[0.97,0.98,0.99,1.0],"format":".2f","title":"Normalized \u00a0PL","tickSize":7,"tickWidth":2,"domainWidth":2,"labelPadding":5,"titlePadding":22}},
"color":{"field":"s","type":"nominal","scale":{"domain":["DI Water","100 nM","10 μM","0.5 M","1 M"],"range":["#000000","#8B1A8B","#118C11","#2323C8","#FF8C1A"]},"legend":{"orient":"none","legendX":293.5,"legendY":158.5,"title":null,"labelOffset":18.5}}}},
{"mark":{"type":"square","size":5,"opacity":1},"encoding":{
"x":{"field":"f","type":"quantitative","scale":{"domain":[2.77,2.97],"nice":false,"zero":false},"axis":{"orient":"top","values":[2.8,2.84,2.88,2.92,2.96],"labels":false,"title":null,"tickSize":-8,"tickWidth":2,"domainWidth":2}},
"y":{"field":"y","type":"quantitative","scale":{"domain":[0.97,1.0018],"nice":false,"zero":false},"axis":{"orient":"right","values":[0.97,0.98,0.99,1.0],"labels":false,"title":null,"tickSize":-8,"tickWidth":2,"domainWidth":2}},
"color":{"field":"s","type":"nominal","scale":{"domain":["DI Water","100 nM","10 μM","0.5 M","1 M"],"range":["#000000","#8B1A8B","#118C11","#2323C8","#FF8C1A"]},"legend":{"orient":"none","legendX":293.5,"legendY":158.5,"title":null,"labelOffset":18.5}}}},
{"data":{"values":[{"t":"(B) FeCl"}]},"mark":{"type":"text","align":"left","baseline":"alphabetic","font":"Liberation Sans","fontSize":36,"fontWeight":"bold","color":"#000"},"encoding":{
"x":{"datum":2.7755,"type":"quantitative","scale":{"domain":[2.77,2.97],"nice":false,"zero":false},"axis":{"orient":"bottom","values":[2.78,2.82,2.86,2.9,2.94],"labels":false,"title":null,"domain":false,"tickSize":4,"tickWidth":1.5}},
"y":{"datum":0.97236,"type":"quantitative","scale":{"domain":[0.97,1.0018],"nice":false,"zero":false},"axis":{"orient":"left","values":[0.975,0.985,0.995],"labels":false,"title":null,"domain":false,"tickSize":4,"tickWidth":1.5}},
"text":{"field":"t"}}},
{"data":{"values":[{"t":"3"}]},"mark":{"type":"text","align":"left","baseline":"alphabetic","font":"Liberation Sans","fontSize":22,"fontWeight":"bold","color":"#000"},"encoding":{
"x":{"datum":2.8346,"type":"quantitative","scale":{"domain":[2.77,2.97],"nice":false,"zero":false},"axis":{"orient":"top","values":[2.78,2.82,2.86,2.9,2.94],"labels":false,"title":null,"domain":false,"tickSize":-4,"tickWidth":1.5}},
"y":{"datum":0.97154,"type":"quantitative","scale":{"domain":[0.97,1.0018],"nice":false,"zero":false},"axis":{"orient":"right","values":[0.975,0.985,0.995],"labels":false,"title":null,"domain":false,"tickSize":-4,"tickWidth":1.5}},
"text":{"field":"t"}}}
]}
],"spacing":52,"resolve":{"scale":{"color":"independent"}}},
{"hconcat":[
{"width":476,"height":352,"data":{"name":"C"},"resolve":{"axis":{"x":"independent","y":"independent"}},
"layer":[
{"mark":{"type":"errorbar","ticks":{"size":5},"thickness":1,"opacity":0.75},"encoding":{
"x":{"field":"f","type":"quantitative","scale":{"domain":[2.77,2.97],"nice":false,"zero":false},"axis":null},
"y":{"field":"y","type":"quantitative","scale":{"domain":[0.96,1.003],"nice":false,"zero":false},"axis":null},
"yError":{"field":"e"},
"color":{"field":"s","type":"nominal","scale":{"domain":["DI Water","100 nM","10 μM","0.5 M","1 M"],"range":["#000000","#8B1A8B","#118C11","#2323C8","#FF8C1A"]},"legend":{"orient":"none","legendX":289.5,"legendY":153.5,"title":null,"labelOffset":17.5}}}},
{"mark":{"type":"line","strokeWidth":1},"encoding":{
"x":{"field":"f","type":"quantitative","scale":{"domain":[2.77,2.97],"nice":false,"zero":false},"axis":{"orient":"bottom","values":[2.8,2.84,2.88,2.92,2.96],"format":".2f","title":"Frequency \u00a0(GHz)","tickSize":8,"tickWidth":2,"domainWidth":2,"labelPadding":4,"titlePadding":17}},
"y":{"field":"y","type":"quantitative","scale":{"domain":[0.96,1.003],"nice":false,"zero":false},"axis":{"orient":"left","values":[0.96,0.97,0.98,0.99,1.0],"format":".2f","title":"Normalized \u00a0PL","tickSize":7,"tickWidth":2,"domainWidth":2,"labelPadding":6,"titlePadding":19}},
"color":{"field":"s","type":"nominal","scale":{"domain":["DI Water","100 nM","10 μM","0.5 M","1 M"],"range":["#000000","#8B1A8B","#118C11","#2323C8","#FF8C1A"]},"legend":{"orient":"none","legendX":289.5,"legendY":153.5,"title":null,"labelOffset":17.5}}}},
{"mark":{"type":"square","size":5,"opacity":1},"encoding":{
"x":{"field":"f","type":"quantitative","scale":{"domain":[2.77,2.97],"nice":false,"zero":false},"axis":{"orient":"top","values":[2.8,2.84,2.88,2.92,2.96],"labels":false,"title":null,"tickSize":-8,"tickWidth":2,"domainWidth":2}},
"y":{"field":"y","type":"quantitative","scale":{"domain":[0.96,1.003],"nice":false,"zero":false},"axis":{"orient":"right","values":[0.96,0.97,0.98,0.99,1.0],"labels":false,"title":null,"tickSize":-8,"tickWidth":2,"domainWidth":2}},
"color":{"field":"s","type":"nominal","scale":{"domain":["DI Water","100 nM","10 μM","0.5 M","1 M"],"range":["#000000","#8B1A8B","#118C11","#2323C8","#FF8C1A"]},"legend":{"orient":"none","legendX":289.5,"legendY":153.5,"title":null,"labelOffset":17.5}}}},
{"data":{"values":[{"t":"(C) LaCl"}]},"mark":{"type":"text","align":"left","baseline":"alphabetic","font":"Liberation Sans","fontSize":36,"fontWeight":"bold","color":"#000"},"encoding":{
"x":{"datum":2.7767,"type":"quantitative","scale":{"domain":[2.77,2.97],"nice":false,"zero":false},"axis":{"orient":"bottom","values":[2.78,2.82,2.86,2.9,2.94],"labels":false,"title":null,"domain":false,"tickSize":4,"tickWidth":1.5}},
"y":{"datum":0.96358,"type":"quantitative","scale":{"domain":[0.96,1.003],"nice":false,"zero":false},"axis":{"orient":"left","values":[0.965,0.975,0.985,0.995],"labels":false,"title":null,"domain":false,"tickSize":4,"tickWidth":1.5}},
"text":{"field":"t"}}},
{"data":{"values":[{"t":"3"}]},"mark":{"type":"text","align":"left","baseline":"alphabetic","font":"Liberation Sans","fontSize":22,"fontWeight":"bold","color":"#000"},"encoding":{
"x":{"datum":2.8355,"type":"quantitative","scale":{"domain":[2.77,2.97],"nice":false,"zero":false},"axis":{"orient":"top","values":[2.78,2.82,2.86,2.9,2.94],"labels":false,"title":null,"domain":false,"tickSize":-4,"tickWidth":1.5}},
"y":{"datum":0.96277,"type":"quantitative","scale":{"domain":[0.96,1.003],"nice":false,"zero":false},"axis":{"orient":"right","values":[0.965,0.975,0.985,0.995],"labels":false,"title":null,"domain":false,"tickSize":-4,"tickWidth":1.5}},
"text":{"field":"t"}}}
]},
{"width":472,"height":351,"data":{"name":"D"},"resolve":{"axis":{"x":"independent","y":"independent"}},
"layer":[
{"mark":{"type":"errorbar","ticks":{"size":6},"thickness":1,"opacity":0.8},"encoding":{
"x":{"field":"f","type":"quantitative","scale":{"domain":[2.77,2.97],"nice":false,"zero":false},"axis":null},
"y":{"field":"y","type":"quantitative","scale":{"domain":[0.945,1.007],"nice":false,"zero":false},"axis":null},
"yError":{"field":"e"},
"color":{"field":"s","type":"nominal","scale":{"domain":["DI Water","100 nM","10 μM","1 mM","0.1 M","1 M"],"range":["#000000","#FF8C1A","#1030F0","#8B0000","#1E8C1E","#FF1A1A"]},"legend":{"orient":"none","legendX":26.5,"legendY":133.5,"title":null,"labelOffset":18.5}}}},
{"mark":{"type":"line","strokeWidth":1},"encoding":{
"x":{"field":"f","type":"quantitative","scale":{"domain":[2.77,2.97],"nice":false,"zero":false},"axis":{"orient":"bottom","values":[2.8,2.84,2.88,2.92,2.96],"format":".2f","title":"Frequency \u00a0(GHz)","tickSize":8,"tickWidth":2,"domainWidth":2,"labelPadding":4,"titlePadding":17}},
"y":{"field":"y","type":"quantitative","scale":{"domain":[0.945,1.007],"nice":false,"zero":false},"axis":{"orient":"left","values":[0.95,0.96,0.97,0.98,0.99,1.0],"format":".2f","title":"Normalized PL","tickSize":7,"tickWidth":2,"domainWidth":2,"labelPadding":8,"titlePadding":36}},
"color":{"field":"s","type":"nominal","scale":{"domain":["DI Water","100 nM","10 μM","1 mM","0.1 M","1 M"],"range":["#000000","#FF8C1A","#1030F0","#8B0000","#1E8C1E","#FF1A1A"]},"legend":{"orient":"none","legendX":26.5,"legendY":133.5,"title":null,"labelOffset":18.5}}}},
{"mark":{"type":"square","size":16,"opacity":1},"encoding":{
"x":{"field":"f","type":"quantitative","scale":{"domain":[2.77,2.97],"nice":false,"zero":false},"axis":{"orient":"top","values":[2.8,2.84,2.88,2.92,2.96],"labels":false,"title":null,"tickSize":-8,"tickWidth":2,"domainWidth":2}},
"y":{"field":"y","type":"quantitative","scale":{"domain":[0.945,1.007],"nice":false,"zero":false},"axis":{"orient":"right","values":[0.95,0.96,0.97,0.98,0.99,1.0],"labels":false,"title":null,"tickSize":-8,"tickWidth":2,"domainWidth":2}},
"color":{"field":"s","type":"nominal","scale":{"domain":["DI Water","100 nM","10 μM","1 mM","0.1 M","1 M"],"range":["#000000","#FF8C1A","#1030F0","#8B0000","#1E8C1E","#FF1A1A"]},"legend":{"orient":"none","legendX":26.5,"legendY":133.5,"title":null,"labelOffset":18.5}}}},
{"data":{"values":[{"t":"(D)"}]},"mark":{"type":"text","align":"left","baseline":"alphabetic","font":"Liberation Sans","fontSize":36,"fontWeight":"bold","color":"#000"},"encoding":{
"x":{"datum":2.8827,"type":"quantitative","scale":{"domain":[2.77,2.97],"nice":false,"zero":false},"axis":{"orient":"bottom","values":[2.78,2.82,2.86,2.9,2.94],"labels":false,"title":null,"domain":false,"tickSize":4,"tickWidth":1.5}},
"y":{"datum":0.95701,"type":"quantitative","scale":{"domain":[0.945,1.007],"nice":false,"zero":false},"axis":{"orient":"left","values":[0.955,0.965,0.975,0.985,0.995,1.005],"labels":false,"title":null,"domain":false,"tickSize":4,"tickWidth":1.5}},
"text":{"field":"t"}}},
{"data":{"values":[{"t":"Gadobutrol"}]},"mark":{"type":"text","align":"left","baseline":"alphabetic","font":"Liberation Sans","fontSize":36,"fontWeight":"bold","color":"#000"},"encoding":{
"x":{"datum":2.8827,"type":"quantitative","scale":{"domain":[2.77,2.97],"nice":false,"zero":false},"axis":{"orient":"top","values":[2.78,2.82,2.86,2.9,2.94],"labels":false,"title":null,"domain":false,"tickSize":-4,"tickWidth":1.5}},
"y":{"datum":0.9503,"type":"quantitative","scale":{"domain":[0.945,1.007],"nice":false,"zero":false},"axis":{"orient":"right","values":[0.955,0.965,0.975,0.985,0.995,1.005],"labels":false,"title":null,"domain":false,"tickSize":-4,"tickWidth":1.5}},
"text":{"field":"t"}}}
]}
],"spacing":37,"resolve":{"scale":{"color":"independent"}}}
]
}
